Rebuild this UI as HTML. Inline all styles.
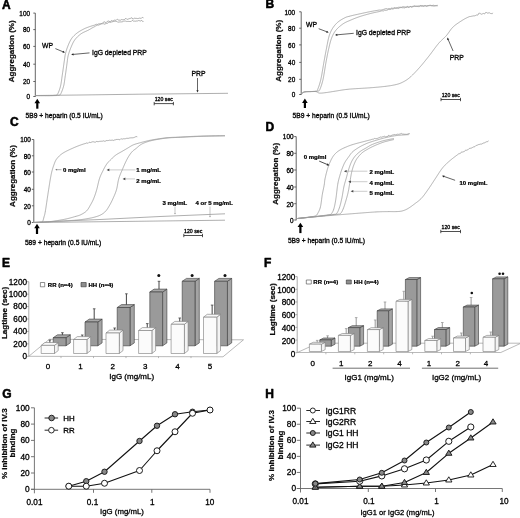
<!DOCTYPE html>
<html><head><meta charset="utf-8"><style>
html,body{margin:0;padding:0;background:#fff;}
svg{display:block;font-family:"Liberation Sans", sans-serif;}
text{stroke:#000;stroke-width:0.3px;stroke-linejoin:round;}
text[font-weight=bold]{stroke-width:0.24px;}
text.pl{stroke-width:0.55px;}
</style></head><body>
<svg style="filter:grayscale(1)" width="520" height="518" viewBox="0 0 520 518" font-family='"Liberation Sans", sans-serif'>
<rect width="520" height="518" fill="#fff"/>
<text x="2.00" y="8.60" font-size="12" font-weight="bold" text-anchor="start" fill="#000" class="pl">A</text>
<line x1="35.30" y1="13.10" x2="35.30" y2="96.80" stroke="#555" stroke-width="0.9"/>
<line x1="33.30" y1="96.50" x2="35.30" y2="96.50" stroke="#555" stroke-width="0.9"/>
<text x="30.00" y="99.30" font-size="6.4" text-anchor="end" fill="#000" >0</text>
<line x1="33.30" y1="81.50" x2="35.30" y2="81.50" stroke="#555" stroke-width="0.9"/>
<text x="30.00" y="84.30" font-size="6.4" text-anchor="end" fill="#000" >20</text>
<line x1="33.30" y1="64.20" x2="35.30" y2="64.20" stroke="#555" stroke-width="0.9"/>
<text x="30.00" y="67.00" font-size="6.4" text-anchor="end" fill="#000" >40</text>
<line x1="33.30" y1="46.40" x2="35.30" y2="46.40" stroke="#555" stroke-width="0.9"/>
<text x="30.00" y="49.20" font-size="6.4" text-anchor="end" fill="#000" >60</text>
<line x1="33.30" y1="29.60" x2="35.30" y2="29.60" stroke="#555" stroke-width="0.9"/>
<text x="30.00" y="32.40" font-size="6.4" text-anchor="end" fill="#000" >80</text>
<line x1="33.30" y1="13.10" x2="35.30" y2="13.10" stroke="#555" stroke-width="0.9"/>
<text x="30.00" y="15.90" font-size="6.4" text-anchor="end" fill="#000" >100</text>
<text x="0" y="0" font-size="8.0" font-weight="bold" text-anchor="middle" fill="#111" transform="translate(14.40,51.30) rotate(-90)">Aggregation (%)</text>
<polyline points="35.20,95.50 80.00,95.00 140.00,94.20 228.00,93.30" fill="none" stroke="#9a9a9a" stroke-width="0.8" stroke-linejoin="round" />
<polyline points="35.50,95.60 35.91,95.60 36.41,95.60 36.98,95.60 37.62,95.60 38.33,95.61 39.08,95.61 39.88,95.61 40.71,95.61 41.57,95.62 42.44,95.62 43.31,95.62 44.19,95.62 45.05,95.62 45.89,95.62 46.70,95.62 47.48,95.62 48.20,95.62 48.87,95.61 49.47,95.61 50.00,95.60 51.24,95.57 52.21,95.54 52.97,95.50 53.57,95.45 54.07,95.40 54.53,95.35 55.00,95.30 56.19,95.32 57.00,94.90 57.34,94.48 57.67,93.94 58.01,93.31 58.35,92.59 58.68,91.82 59.00,91.00 59.21,90.43 59.42,89.83 59.64,89.20 59.85,88.54 60.05,87.86 60.25,87.15 60.44,86.42 60.63,85.67 60.80,84.90 60.93,84.25 61.06,83.57 61.17,82.87 61.28,82.15 61.39,81.41 61.50,80.67 61.60,79.93 61.70,79.18 61.80,78.44 61.90,77.71 62.00,77.00 62.11,76.23 62.22,75.47 62.33,74.72 62.44,73.98 62.55,73.23 62.66,72.48 62.77,71.73 62.88,70.97 62.99,70.19 63.10,69.40 63.20,68.72 63.30,68.03 63.40,67.32 63.50,66.61 63.60,65.89 63.70,65.16 63.80,64.44 63.90,63.73 64.00,63.02 64.10,62.33 64.20,61.65 64.30,61.00 64.41,60.25 64.51,59.52 64.60,58.82 64.68,58.13 64.77,57.46 64.87,56.78 64.98,56.11 65.10,55.42 65.24,54.72 65.40,54.00 65.56,53.33 65.74,52.64 65.92,51.95 66.12,51.26 66.32,50.55 66.54,49.85 66.77,49.14 67.01,48.43 67.26,47.72 67.52,47.01 67.80,46.30 68.06,45.65 68.33,44.98 68.61,44.30 68.90,43.62 69.20,42.94 69.51,42.26 69.83,41.58 70.16,40.93 70.50,40.28 70.86,39.66 71.22,39.07 71.60,38.50 72.07,37.86 72.56,37.24 73.08,36.65 73.61,36.09 74.15,35.55 74.71,35.03 75.27,34.53 75.84,34.04 76.42,33.56 77.00,33.10 77.59,32.65 78.20,32.21 78.83,31.80 79.46,31.39 80.10,31.01 80.74,30.64 81.37,30.28 82.00,29.94 82.61,29.61 83.20,29.30 83.91,28.94 84.58,28.61 85.24,28.31 85.89,28.04 86.54,27.77 87.20,27.52 87.88,27.26 88.60,27.00 89.26,26.76 89.92,26.54 90.60,26.31 91.29,26.09 91.99,25.87 92.71,25.66 93.45,25.44 94.21,25.22 95.00,25.00 95.66,24.45 96.34,24.28 97.03,24.53 97.73,24.36 98.44,23.94 99.17,23.76 99.91,23.91 100.67,23.73 101.43,23.57 102.21,23.38 103.00,22.39 103.63,22.23 104.28,21.97 104.94,21.79 105.60,22.75 106.28,22.56 106.97,21.55 107.66,21.35 108.35,21.12 109.05,20.93 109.74,21.81 110.44,21.64 111.13,20.74 111.82,20.59 112.50,20.97 113.23,20.84 113.96,20.23 114.68,20.13 115.41,20.28 116.13,20.20 116.86,19.45 117.58,19.39 118.31,20.01 119.04,19.95 119.77,20.22 120.51,20.15 121.25,19.61 122.00,19.53 122.70,19.77 123.39,19.69 124.08,19.53 124.78,19.45 125.47,18.53 126.17,18.46 126.88,19.36 127.58,19.29 128.30,18.98 129.02,18.91 129.75,18.44 130.49,18.36 131.24,17.91 132.00,17.84 132.70,18.95 133.44,18.88 134.23,18.26 135.04,18.19 135.87,18.46 136.71,18.39 137.55,18.54 138.38,18.47 139.18,18.17 139.96,18.10 140.71,18.33 141.40,18.27 142.03,17.48 142.60,17.43 143.09,17.96 143.50,17.92" fill="none" stroke="#9a9a9a" stroke-width="0.8" stroke-linejoin="round" />
<polyline points="35.50,95.60 35.89,95.60 36.36,95.60 36.88,95.60 37.47,95.60 38.11,95.60 38.80,95.61 39.53,95.61 40.30,95.61 41.10,95.61 41.93,95.61 42.77,95.62 43.63,95.62 44.50,95.62 45.37,95.62 46.24,95.62 47.10,95.62 47.94,95.62 48.77,95.62 49.57,95.62 50.34,95.62 51.08,95.62 51.77,95.62 52.41,95.61 53.00,95.61 53.53,95.61 54.00,95.60 55.76,95.56 56.74,95.51 57.24,95.44 57.56,95.37 58.00,95.30 59.12,95.32 60.00,94.90 60.33,94.48 60.67,93.94 61.01,93.31 61.34,92.59 61.67,91.82 62.00,91.00 62.22,90.43 62.44,89.83 62.67,89.20 62.89,88.54 63.11,87.86 63.32,87.15 63.53,86.42 63.72,85.67 63.90,84.90 64.04,84.25 64.16,83.57 64.28,82.87 64.39,82.15 64.50,81.41 64.60,80.67 64.70,79.93 64.80,79.18 64.90,78.44 65.00,77.71 65.10,77.00 65.21,76.23 65.33,75.46 65.44,74.69 65.55,73.93 65.66,73.17 65.77,72.41 65.88,71.66 65.99,70.90 66.09,70.15 66.20,69.40 66.30,68.65 66.41,67.89 66.51,67.14 66.61,66.38 66.71,65.63 66.80,64.89 66.90,64.15 67.00,63.42 67.10,62.70 67.20,62.00 67.30,61.24 67.39,60.52 67.47,59.81 67.56,59.12 67.65,58.42 67.75,57.72 67.87,57.01 68.02,56.27 68.20,55.50 68.37,54.85 68.56,54.17 68.76,53.49 68.97,52.79 69.20,52.09 69.44,51.37 69.69,50.66 69.95,49.94 70.23,49.22 70.51,48.51 70.80,47.80 71.07,47.15 71.35,46.49 71.63,45.82 71.92,45.14 72.22,44.47 72.53,43.80 72.85,43.13 73.18,42.48 73.53,41.83 73.90,41.20 74.29,40.59 74.70,40.00 75.13,39.43 75.58,38.86 76.05,38.30 76.54,37.76 77.04,37.23 77.56,36.71 78.09,36.20 78.64,35.71 79.19,35.23 79.75,34.77 80.32,34.33 80.90,33.90 81.49,33.50 82.11,33.12 82.75,32.76 83.40,32.42 84.07,32.10 84.74,31.79 85.41,31.49 86.07,31.19 86.73,30.90 87.37,30.60 88.00,30.30 88.60,30.00 89.29,29.63 89.94,29.26 90.57,28.89 91.18,28.52 91.78,28.16 92.39,27.81 93.00,27.46 93.64,27.13 94.30,26.81 95.00,26.50 95.66,25.92 96.34,25.66 97.03,25.26 97.73,25.02 98.44,25.14 99.17,24.92 99.91,24.42 100.67,24.20 101.43,23.89 102.21,23.68 103.00,23.88 103.68,23.71 104.38,24.15 105.09,23.98 105.81,23.66 106.54,23.49 107.28,23.28 108.03,23.11 108.78,22.30 109.53,22.15 110.28,22.39 111.02,22.26 111.77,21.84 112.50,21.73 113.23,21.52 113.96,21.45 114.68,21.31 115.41,21.26 116.13,21.36 116.86,21.33 117.58,22.16 118.31,22.14 119.04,22.00 119.77,21.98 120.51,21.93 121.25,21.90 122.00,21.86 122.70,21.82 123.39,21.06 124.08,21.02 124.78,21.11 125.47,21.07 126.17,21.41 126.88,21.37 127.58,21.46 128.30,21.42 129.02,21.53 129.75,21.50 130.49,21.50 131.24,21.48 132.00,20.50 132.70,20.49 133.44,21.10 134.23,21.10 135.04,21.17 135.87,21.17 136.71,20.97 137.55,20.97 138.38,20.58 139.18,20.59 139.96,20.95 140.71,20.95 141.40,20.50 142.03,20.50 142.60,21.52 143.09,21.52 143.50,21.44" fill="none" stroke="#9a9a9a" stroke-width="0.8" stroke-linejoin="round" />
<text x="42.00" y="47.50" font-size="6.8" text-anchor="start" fill="#000" >WP</text>
<line x1="55.40" y1="48.60" x2="63.58" y2="52.01" stroke="#222" stroke-width="0.7"/>
<polygon points="65.00,52.60 62.44,52.74 63.30,50.69" fill="#222"/>
<text x="92.00" y="55.00" font-size="6.8" text-anchor="start" fill="#000" >IgG depleted PRP</text>
<line x1="89.50" y1="52.90" x2="72.73" y2="54.46" stroke="#222" stroke-width="0.7"/>
<polygon points="71.20,54.60 73.39,53.28 73.60,55.50" fill="#222"/>
<text x="198.50" y="75.50" font-size="6.8" text-anchor="middle" fill="#000" >PRP</text>
<line x1="197.50" y1="78.00" x2="197.50" y2="90.96" stroke="#222" stroke-width="0.7"/>
<polygon points="197.50,92.50 196.39,90.19 198.61,90.19" fill="#222"/>
<text x="163.80" y="101.30" font-size="5.2" text-anchor="middle" fill="#000" >120 sec</text>
<line x1="154.20" y1="103.60" x2="173.40" y2="103.60" stroke="#222" stroke-width="0.8"/>
<line x1="154.20" y1="101.90" x2="154.20" y2="105.30" stroke="#222" stroke-width="0.8"/>
<line x1="173.40" y1="101.90" x2="173.40" y2="105.30" stroke="#222" stroke-width="0.8"/>
<rect x="36.20" y="101.80" width="2.2" height="6.90" fill="#000"/>
<polygon points="37.30,98.80 34.50,103.20 40.10,103.20" fill="#000"/>
<text x="25.60" y="117.80" font-size="6.7" text-anchor="start" fill="#000" >5B9 + heparin (0.5 IU/mL)</text>
<text x="265.50" y="8.20" font-size="12" font-weight="bold" text-anchor="start" fill="#000" class="pl">B</text>
<line x1="301.20" y1="11.80" x2="301.20" y2="94.80" stroke="#555" stroke-width="0.9"/>
<line x1="299.20" y1="94.50" x2="301.20" y2="94.50" stroke="#555" stroke-width="0.9"/>
<text x="295.20" y="97.30" font-size="6.4" text-anchor="end" fill="#000" >0</text>
<line x1="299.20" y1="79.30" x2="301.20" y2="79.30" stroke="#555" stroke-width="0.9"/>
<text x="295.20" y="82.10" font-size="6.4" text-anchor="end" fill="#000" >20</text>
<line x1="299.20" y1="62.40" x2="301.20" y2="62.40" stroke="#555" stroke-width="0.9"/>
<text x="295.20" y="65.20" font-size="6.4" text-anchor="end" fill="#000" >40</text>
<line x1="299.20" y1="44.90" x2="301.20" y2="44.90" stroke="#555" stroke-width="0.9"/>
<text x="295.20" y="47.70" font-size="6.4" text-anchor="end" fill="#000" >60</text>
<line x1="299.20" y1="28.20" x2="301.20" y2="28.20" stroke="#555" stroke-width="0.9"/>
<text x="295.20" y="31.00" font-size="6.4" text-anchor="end" fill="#000" >80</text>
<line x1="299.20" y1="11.80" x2="301.20" y2="11.80" stroke="#555" stroke-width="0.9"/>
<text x="295.20" y="14.60" font-size="6.4" text-anchor="end" fill="#000" >100</text>
<text x="0" y="0" font-size="8.0" font-weight="bold" text-anchor="middle" fill="#111" transform="translate(280.80,50.80) rotate(-90)">Aggregation (%)</text>
<polyline points="301.50,93.80 301.88,93.52 302.41,93.10 303.05,92.64 303.78,92.21 304.60,91.90 305.25,91.77 305.96,91.69 306.72,91.64 307.52,91.62 308.35,91.62 309.18,91.61 310.00,91.60 310.74,91.58 311.52,91.54 312.32,91.51 313.12,91.49 313.91,91.48 314.66,91.49 315.37,91.53 316.00,91.60 316.81,91.84 317.44,92.19 318.00,92.57 318.65,92.90 319.50,93.10 320.08,93.14 320.69,93.14 321.35,93.11 322.05,93.06 322.78,92.99 323.54,92.91 324.33,92.81 325.15,92.71 326.00,92.60 326.60,92.52 327.20,92.44 327.81,92.35 328.43,92.26 329.06,92.15 329.71,92.05 330.38,91.94 331.08,91.82 331.79,91.70 332.54,91.58 333.33,91.46 334.14,91.33 335.00,91.20 335.60,91.11 336.21,91.01 336.83,90.91 337.46,90.81 338.10,90.70 338.75,90.59 339.41,90.48 340.09,90.37 340.78,90.26 341.49,90.14 342.22,90.03 342.97,89.92 343.73,89.81 344.52,89.70 345.33,89.59 346.16,89.49 347.01,89.39 347.89,89.29 348.80,89.20 349.39,89.14 350.01,89.09 350.65,89.04 351.30,88.98 351.98,88.93 352.67,88.88 353.37,88.83 354.08,88.78 354.81,88.74 355.55,88.69 356.29,88.64 357.04,88.60 357.80,88.55 358.56,88.51 359.33,88.46 360.09,88.42 360.85,88.37 361.61,88.33 362.37,88.29 363.12,88.24 363.86,88.20 364.60,88.16 365.32,88.11 366.04,88.07 366.74,88.03 367.43,87.98 368.10,87.94 368.75,87.89 369.39,87.85 370.00,87.80 370.85,87.73 371.69,87.67 372.51,87.60 373.32,87.54 374.11,87.47 374.88,87.41 375.64,87.34 376.39,87.28 377.12,87.21 377.84,87.15 378.55,87.08 379.25,87.01 379.93,86.95 380.60,86.88 381.26,86.81 381.91,86.75 382.55,86.68 383.17,86.61 383.79,86.54 384.40,86.47 385.00,86.40 385.88,86.29 386.72,86.19 387.53,86.08 388.31,85.98 389.06,85.87 389.79,85.77 390.50,85.66 391.19,85.55 391.85,85.43 392.51,85.31 393.15,85.19 393.77,85.07 394.39,84.94 395.00,84.80 395.82,84.61 396.58,84.43 397.30,84.24 397.98,84.06 398.64,83.86 399.29,83.64 399.94,83.40 400.60,83.14 401.29,82.84 402.00,82.50 402.56,82.22 403.13,81.94 403.69,81.65 404.26,81.34 404.82,81.03 405.40,80.69 405.98,80.34 406.57,79.96 407.17,79.55 407.78,79.12 408.40,78.65 409.04,78.14 409.70,77.60 410.16,77.20 410.63,76.78 411.11,76.35 411.59,75.89 412.09,75.42 412.59,74.94 413.09,74.44 413.60,73.92 414.12,73.40 414.63,72.86 415.15,72.32 415.67,71.77 416.20,71.21 416.72,70.65 417.24,70.08 417.76,69.51 418.28,68.94 418.79,68.37 419.30,67.80 419.76,67.28 420.22,66.76 420.68,66.23 421.14,65.69 421.60,65.15 422.07,64.60 422.53,64.04 422.99,63.49 423.46,62.92 423.92,62.36 424.38,61.79 424.84,61.22 425.31,60.64 425.77,60.07 426.23,59.49 426.70,58.91 427.16,58.33 427.62,57.75 428.08,57.16 428.54,56.58 429.00,56.00 429.44,55.44 429.88,54.87 430.33,54.28 430.78,53.69 431.23,53.09 431.68,52.49 432.13,51.88 432.58,51.27 433.03,50.66 433.48,50.05 433.92,49.44 434.37,48.84 434.81,48.24 435.25,47.65 435.69,47.07 436.12,46.50 436.55,45.95 436.97,45.40 437.39,44.88 437.80,44.36 438.20,43.87 438.60,43.40 439.17,42.74 439.74,42.13 440.29,41.55 440.84,41.00 441.38,40.47 441.91,39.97 442.43,39.48 442.94,39.01 443.45,38.54 443.94,38.09 444.43,37.63 444.91,37.16 445.38,36.69 445.85,36.20 446.30,35.70 446.81,35.10 447.30,34.49 447.77,33.86 448.22,33.24 448.67,32.61 449.10,31.98 449.53,31.36 449.96,30.75 450.38,30.16 450.80,29.58 451.23,29.02 451.66,28.50 452.10,28.00 452.66,27.41 453.20,26.87 453.72,26.38 454.23,25.92 454.76,25.48 455.30,25.05 455.87,24.62 456.49,24.18 457.16,23.71 457.90,23.20 458.40,22.86 458.93,22.50 459.48,22.13 460.05,21.75 460.65,21.36 461.26,20.97 461.88,20.58 462.51,20.18 463.15,19.79 463.80,19.41 464.45,19.03 465.09,18.67 465.73,18.32 466.37,17.99 466.99,17.68 467.60,17.40 468.29,17.10 468.99,16.82 469.70,16.56 470.41,16.51 471.11,16.29 471.82,16.26 472.52,16.06 473.22,15.96 473.92,15.78 474.60,15.84 475.27,15.68 475.93,15.19 476.57,15.04 477.20,15.18 477.97,14.98 478.71,13.37 479.43,13.21 480.14,13.75 480.82,13.60 481.50,14.23 482.17,14.12 482.84,13.54 483.52,13.46 484.20,13.79 484.90,13.74 485.63,12.46 486.42,12.46 487.23,13.06 488.06,13.11 488.88,12.82 489.68,12.89 490.43,13.45 491.13,13.52 491.76,13.63 492.28,13.68 492.70,12.82" fill="none" stroke="#9a9a9a" stroke-width="0.8" stroke-linejoin="round" />
<polyline points="301.50,93.80 301.85,93.52 302.31,93.10 302.90,92.64 303.66,92.21 304.60,91.90 305.18,91.80 305.87,91.72 306.63,91.67 307.44,91.63 308.28,91.60 309.11,91.58 309.93,91.57 310.70,91.55 311.40,91.53 312.00,91.50 312.98,91.44 313.76,91.40 314.41,91.36 314.97,91.30 315.50,91.20 316.40,91.40 317.30,90.30 317.47,89.91 317.66,89.48 317.86,89.00 318.06,88.47 318.28,87.90 318.51,87.30 318.74,86.66 318.97,85.98 319.20,85.27 319.44,84.53 319.68,83.77 319.91,82.98 320.14,82.16 320.37,81.33 320.59,80.47 320.80,79.60 320.93,79.02 321.06,78.42 321.19,77.80 321.32,77.16 321.45,76.49 321.58,75.81 321.71,75.12 321.84,74.41 321.97,73.68 322.09,72.95 322.22,72.22 322.34,71.47 322.47,70.73 322.59,69.98 322.72,69.23 322.84,68.48 322.96,67.74 323.08,67.01 323.20,66.28 323.32,65.56 323.44,64.86 323.55,64.17 323.67,63.49 323.79,62.84 323.90,62.20 324.04,61.42 324.18,60.66 324.32,59.91 324.45,59.17 324.59,58.44 324.72,57.72 324.85,57.01 324.98,56.31 325.10,55.61 325.23,54.92 325.36,54.24 325.48,53.57 325.61,52.90 325.74,52.23 325.86,51.57 325.99,50.92 326.11,50.26 326.24,49.61 326.37,48.95 326.50,48.30 326.65,47.53 326.80,46.76 326.95,45.99 327.09,45.22 327.24,44.45 327.38,43.69 327.53,42.94 327.67,42.19 327.82,41.45 327.97,40.73 328.12,40.01 328.27,39.31 328.43,38.63 328.59,37.97 328.75,37.32 328.92,36.70 329.10,36.10 329.35,35.29 329.61,34.53 329.87,33.80 330.14,33.11 330.41,32.45 330.69,31.82 330.98,31.21 331.27,30.61 331.58,30.03 331.91,29.45 332.25,28.88 332.60,28.30 333.00,27.68 333.42,27.06 333.85,26.47 334.29,25.89 334.75,25.32 335.22,24.76 335.71,24.22 336.21,23.70 336.72,23.18 337.25,22.68 337.80,22.20 338.38,21.73 338.99,21.26 339.63,20.80 340.29,20.36 340.96,19.93 341.64,19.52 342.31,19.13 342.97,18.76 343.61,18.41 344.22,18.09 344.80,17.80 345.60,17.42 346.28,17.13 346.90,16.91 347.53,16.73 348.22,16.55 349.02,16.35 350.00,16.10 350.56,15.95 351.15,15.81 351.78,15.65 352.43,15.50 353.11,15.34 353.82,15.17 354.54,15.01 355.29,14.84 356.05,14.67 356.82,14.50 357.61,14.32 358.40,14.15 359.20,13.97 360.00,13.80 360.63,13.66 361.28,13.52 361.94,13.38 362.61,13.23 363.29,13.08 363.98,12.93 364.68,12.78 365.38,12.63 366.09,12.48 366.81,12.33 367.52,12.18 368.24,12.03 368.96,11.89 369.67,11.74 370.39,11.60 371.10,11.46 371.80,11.33 372.50,11.20 373.19,11.07 373.89,10.95 374.58,10.83 375.28,10.71 375.97,10.59 376.67,10.48 377.36,10.36 378.06,10.25 378.75,10.14 379.44,10.04 380.14,10.16 380.83,10.06 381.53,9.97 382.22,9.87 382.92,9.50 383.61,9.39 384.31,9.11 385.00,9.01 385.69,8.70 386.39,8.59 387.08,9.02 387.78,8.92 388.47,8.66 389.17,8.56 389.86,8.69 390.56,8.59 391.25,8.19 391.94,8.09 392.64,8.31 393.33,8.22 394.03,7.73 394.72,7.64 395.42,7.98 396.11,7.90 396.81,7.76 397.50,7.68 398.24,7.35 398.97,7.28 399.71,7.31 400.44,7.24 401.18,7.29 401.91,7.23 402.65,6.78 403.38,6.72 404.12,6.95 404.85,6.90 405.59,7.05 406.32,6.99 407.06,6.51 407.79,6.46 408.53,6.84 409.26,6.79 410.00,6.65 410.73,6.60 411.45,6.68 412.17,6.63 412.88,6.18 413.59,6.13 414.30,5.90 415.01,5.85 415.72,6.38 416.44,6.34 417.16,6.30 417.89,6.26 418.63,5.94 419.37,5.90 420.13,5.58 420.91,5.55 421.69,5.59 422.50,5.56 423.18,5.88 423.90,5.85 424.66,5.55 425.45,5.52 426.26,6.02 427.09,5.99 427.93,5.67 428.78,5.64 429.62,5.31 430.46,5.28 431.29,5.62 432.11,5.59 432.90,5.33 433.66,5.31 434.39,5.75 435.07,5.73 435.71,5.69 436.30,5.67 436.83,5.34 437.30,5.32 437.70,5.42" fill="none" stroke="#9a9a9a" stroke-width="0.8" stroke-linejoin="round" />
<polyline points="301.50,93.80 301.82,93.52 302.21,93.10 302.76,92.64 303.53,92.21 304.60,91.90 305.13,91.82 305.76,91.76 306.45,91.71 307.21,91.67 308.01,91.64 308.84,91.62 309.67,91.60 310.51,91.59 311.31,91.57 312.08,91.56 312.80,91.55 313.44,91.53 314.00,91.50 315.15,91.44 316.01,91.39 316.68,91.34 317.24,91.25 317.80,91.10 318.56,91.00 319.11,90.77 319.80,89.60 319.99,89.16 320.20,88.68 320.41,88.15 320.63,87.58 320.86,86.96 321.10,86.30 321.34,85.59 321.58,84.85 321.82,84.07 322.07,83.24 322.31,82.39 322.54,81.49 322.77,80.56 323.00,79.60 323.12,79.04 323.25,78.45 323.37,77.83 323.49,77.20 323.62,76.54 323.74,75.86 323.86,75.17 323.98,74.46 324.10,73.74 324.22,73.00 324.34,72.26 324.46,71.52 324.58,70.77 324.70,70.02 324.82,69.26 324.94,68.51 325.06,67.77 325.18,67.03 325.30,66.30 325.42,65.57 325.53,64.87 325.65,64.17 325.77,63.50 325.88,62.84 326.00,62.20 326.14,61.42 326.29,60.65 326.43,59.89 326.57,59.14 326.71,58.40 326.85,57.67 326.99,56.94 327.13,56.22 327.27,55.52 327.41,54.82 327.54,54.13 327.68,53.45 327.82,52.77 327.96,52.11 328.10,51.45 328.24,50.81 328.38,50.17 328.52,49.54 328.66,48.91 328.80,48.30 328.99,47.50 329.17,46.71 329.35,45.94 329.53,45.19 329.70,44.45 329.88,43.73 330.06,43.02 330.24,42.32 330.43,41.64 330.62,40.97 330.82,40.32 331.02,39.67 331.24,39.04 331.46,38.41 331.70,37.80 332.01,37.05 332.32,36.32 332.64,35.62 332.96,34.94 333.30,34.27 333.65,33.62 334.01,32.99 334.39,32.37 334.79,31.77 335.20,31.17 335.64,30.58 336.10,30.00 336.55,29.47 337.02,28.94 337.52,28.42 338.04,27.91 338.57,27.41 339.11,26.92 339.67,26.44 340.23,25.98 340.79,25.53 341.35,25.10 341.91,24.68 342.46,24.28 343.00,23.90 343.62,23.49 344.23,23.11 344.82,22.77 345.41,22.45 346.01,22.16 346.61,21.87 347.23,21.59 347.87,21.31 348.54,21.03 349.25,20.72 350.00,20.40 350.57,20.15 351.16,19.90 351.77,19.64 352.39,19.38 353.02,19.11 353.66,18.85 354.32,18.58 354.99,18.32 355.68,18.05 356.37,17.79 357.08,17.52 357.79,17.26 358.52,17.00 359.25,16.75 360.00,16.50 360.63,16.29 361.28,16.09 361.94,15.88 362.61,15.68 363.29,15.47 363.98,15.27 364.68,15.06 365.38,14.86 366.09,14.66 366.81,14.47 367.52,14.27 368.24,14.08 368.96,13.89 369.67,13.70 370.39,13.52 371.10,13.34 371.80,13.17 372.50,13.00 373.19,12.84 373.89,12.68 374.58,12.52 375.28,12.37 375.97,12.22 376.67,12.08 377.36,11.94 378.06,11.80 378.75,11.67 379.44,11.54 380.14,11.26 380.83,11.13 381.53,10.87 382.22,10.74 382.92,11.01 383.61,10.88 384.31,10.29 385.00,10.16 385.69,10.40 386.39,10.27 387.08,10.00 387.78,9.87 388.47,9.49 389.17,9.36 389.86,9.59 390.56,9.46 391.25,8.95 391.94,8.83 392.64,9.02 393.33,8.90 394.03,8.49 394.72,8.38 395.42,8.28 396.11,8.18 396.81,8.34 397.50,8.24 398.24,8.46 398.97,8.36 399.71,7.71 400.44,7.62 401.18,7.62 401.91,7.53 402.65,7.78 403.38,7.70 404.12,7.88 404.85,7.81 405.59,7.45 406.32,7.38 407.06,7.17 407.79,7.11 408.53,7.51 409.26,7.44 410.00,6.64 410.73,6.58 411.45,7.17 412.17,7.11 412.88,6.60 413.59,6.55 414.30,6.38 415.01,6.33 415.72,6.26 416.44,6.22 417.16,6.32 417.89,6.28 418.63,6.64 419.37,6.60 420.13,6.06 420.91,6.02 421.69,6.30 422.50,6.27 423.18,6.28 423.90,6.26 424.66,6.02 425.45,5.99 426.26,6.11 427.09,6.08 427.93,5.67 428.78,5.65 429.62,5.63 430.46,5.61 431.29,5.71 432.11,5.69 432.90,6.05 433.66,6.03 434.39,5.82 435.07,5.80 435.71,5.70 436.30,5.68 436.83,5.89 437.30,5.88 437.70,5.76" fill="none" stroke="#9a9a9a" stroke-width="0.8" stroke-linejoin="round" />
<text x="306.00" y="26.50" font-size="6.8" text-anchor="start" fill="#000" >WP</text>
<line x1="318.70" y1="28.70" x2="327.26" y2="31.95" stroke="#222" stroke-width="0.7"/>
<polygon points="328.70,32.50 326.15,32.72 326.94,30.64" fill="#222"/>
<text x="356.00" y="35.00" font-size="6.8" text-anchor="start" fill="#000" >IgG depleted PRP</text>
<line x1="353.70" y1="33.30" x2="336.53" y2="34.86" stroke="#222" stroke-width="0.7"/>
<polygon points="335.00,35.00 337.19,33.68 337.40,35.90" fill="#222"/>
<text x="456.80" y="59.50" font-size="6.8" text-anchor="middle" fill="#000" >PRP</text>
<line x1="453.10" y1="51.00" x2="447.91" y2="39.01" stroke="#222" stroke-width="0.7"/>
<polygon points="447.30,37.60 449.24,39.27 447.19,40.16" fill="#222"/>
<text x="450.75" y="97.20" font-size="5.2" text-anchor="middle" fill="#000" >120 sec</text>
<line x1="441.00" y1="99.50" x2="460.50" y2="99.50" stroke="#222" stroke-width="0.8"/>
<line x1="441.00" y1="97.80" x2="441.00" y2="101.20" stroke="#222" stroke-width="0.8"/>
<line x1="460.50" y1="97.80" x2="460.50" y2="101.20" stroke="#222" stroke-width="0.8"/>
<rect x="303.80" y="101.50" width="2.2" height="6.50" fill="#000"/>
<polygon points="304.90,98.50 302.10,102.90 307.70,102.90" fill="#000"/>
<text x="292.50" y="117.50" font-size="6.7" text-anchor="start" fill="#000" >5B9 + heparin (0.5 IU/mL)</text>
<text x="10.00" y="126.30" font-size="12" font-weight="bold" text-anchor="start" fill="#000" class="pl">C</text>
<line x1="33.80" y1="139.50" x2="33.80" y2="222.80" stroke="#555" stroke-width="0.9"/>
<line x1="31.80" y1="222.50" x2="33.80" y2="222.50" stroke="#555" stroke-width="0.9"/>
<text x="30.90" y="225.30" font-size="6.4" text-anchor="end" fill="#000" >0</text>
<line x1="31.80" y1="205.80" x2="33.80" y2="205.80" stroke="#555" stroke-width="0.9"/>
<text x="30.90" y="208.60" font-size="6.4" text-anchor="end" fill="#000" >20</text>
<line x1="31.80" y1="189.30" x2="33.80" y2="189.30" stroke="#555" stroke-width="0.9"/>
<text x="30.90" y="192.10" font-size="6.4" text-anchor="end" fill="#000" >40</text>
<line x1="31.80" y1="172.00" x2="33.80" y2="172.00" stroke="#555" stroke-width="0.9"/>
<text x="30.90" y="174.80" font-size="6.4" text-anchor="end" fill="#000" >60</text>
<line x1="31.80" y1="155.80" x2="33.80" y2="155.80" stroke="#555" stroke-width="0.9"/>
<text x="30.90" y="158.60" font-size="6.4" text-anchor="end" fill="#000" >80</text>
<line x1="31.80" y1="139.50" x2="33.80" y2="139.50" stroke="#555" stroke-width="0.9"/>
<text x="30.90" y="142.30" font-size="6.4" text-anchor="end" fill="#000" >100</text>
<text x="0" y="0" font-size="8.0" font-weight="bold" text-anchor="middle" fill="#111" transform="translate(15.30,176.00) rotate(-90)">Aggregation (%)</text>
<polyline points="33.50,222.30 100.00,219.50 160.00,216.50 225.00,213.80" fill="none" stroke="#9a9a9a" stroke-width="0.8" stroke-linejoin="round" />
<polyline points="33.50,222.50 120.00,221.50 225.00,220.20" fill="none" stroke="#9a9a9a" stroke-width="0.8" stroke-linejoin="round" />
<polyline points="33.50,222.50 33.96,222.50 34.58,222.50 35.33,222.50 36.16,222.50 37.03,222.50 37.89,222.49 38.70,222.47 39.42,222.44 40.00,222.40 41.17,222.33 41.89,222.17 42.50,221.60 42.81,221.07 43.08,220.40 43.32,219.62 43.54,218.78 43.77,217.89 44.00,217.00 44.17,216.41 44.32,215.91 44.47,215.43 44.61,214.91 44.77,214.28 44.95,213.46 45.15,212.39 45.40,211.00 45.48,210.51 45.57,209.99 45.66,209.44 45.75,208.85 45.84,208.23 45.94,207.59 46.05,206.92 46.15,206.22 46.26,205.51 46.36,204.78 46.47,204.03 46.59,203.27 46.70,202.50 46.81,201.72 46.93,200.93 47.04,200.14 47.16,199.35 47.28,198.56 47.39,197.76 47.51,196.98 47.63,196.20 47.74,195.43 47.86,194.67 47.97,193.93 48.08,193.20 48.19,192.49 48.30,191.80 48.42,191.07 48.53,190.33 48.65,189.58 48.76,188.84 48.88,188.09 49.00,187.34 49.11,186.59 49.23,185.84 49.34,185.10 49.46,184.36 49.58,183.62 49.69,182.89 49.81,182.17 49.92,181.45 50.04,180.75 50.16,180.05 50.27,179.37 50.39,178.69 50.50,178.03 50.62,177.38 50.74,176.75 50.85,176.14 50.97,175.54 51.08,174.96 51.20,174.40 51.39,173.51 51.59,172.65 51.78,171.84 51.97,171.07 52.17,170.33 52.36,169.63 52.55,168.95 52.75,168.30 52.94,167.68 53.13,167.08 53.33,166.49 53.52,165.93 53.71,165.38 53.91,164.83 54.10,164.30 54.41,163.46 54.69,162.71 54.96,162.03 55.23,161.40 55.51,160.81 55.82,160.24 56.16,159.67 56.55,159.10 57.00,158.50 57.40,158.00 57.83,157.50 58.27,157.01 58.73,156.52 59.22,156.03 59.74,155.55 60.28,155.08 60.86,154.60 61.47,154.13 62.12,153.66 62.80,153.20 63.33,152.86 63.90,152.52 64.49,152.18 65.11,151.84 65.75,151.50 66.40,151.16 67.07,150.82 67.75,150.49 68.44,150.16 69.13,149.84 69.82,149.52 70.50,149.20 71.18,148.90 71.85,148.59 72.50,148.30 73.19,147.99 73.89,147.68 74.60,147.38 75.31,147.08 76.01,146.79 76.72,146.50 77.42,146.22 78.12,145.94 78.82,145.68 79.50,145.42 80.17,145.18 80.83,144.94 81.47,144.71 82.10,144.50 82.87,144.25 83.60,144.01 84.31,143.80 84.99,143.60 85.67,143.41 86.33,143.05 87.00,142.89 87.67,143.25 88.36,143.10 89.07,142.38 89.80,142.24 90.49,142.52 91.18,142.42 91.88,141.89 92.58,141.80 93.29,141.83 94.01,141.75 94.74,142.21 95.49,142.14 96.24,141.52 97.01,141.45 97.80,141.68 98.60,141.60 99.25,141.41 99.90,141.35 100.54,141.30 101.19,141.25 101.85,141.23 102.52,141.18 103.19,140.92 103.88,140.87 104.59,141.26 105.31,141.20 106.06,140.62 106.83,140.56 107.62,140.58 108.45,140.50 109.30,140.26 109.91,140.20 110.53,140.30 111.18,140.23 111.85,140.25 112.54,140.17 113.24,140.44 113.95,140.35 114.67,139.90 115.40,139.81 116.14,139.53 116.88,139.44 117.62,139.45 118.37,139.36 119.11,139.78 119.84,139.68 120.57,138.94 121.30,138.85 122.01,139.14 122.70,139.05 123.39,138.79 124.05,138.70 124.70,138.81 125.49,138.70 126.29,138.37 127.11,138.25 127.93,138.38 128.75,138.25 129.57,137.99 130.39,137.87 131.18,137.86 131.96,137.74 132.72,137.80 133.44,137.68 134.14,137.35 134.79,137.25 135.40,136.84 135.96,136.76 136.47,136.62 136.92,136.55 137.30,137.11" fill="none" stroke="#9a9a9a" stroke-width="0.8" stroke-linejoin="round" />
<polyline points="33.50,222.50 33.89,222.48 34.34,222.46 34.85,222.44 35.41,222.42 36.02,222.39 36.67,222.37 37.35,222.34 38.08,222.31 38.83,222.28 39.61,222.25 40.41,222.22 41.22,222.18 42.05,222.14 42.88,222.10 43.72,222.06 44.56,222.01 45.39,221.96 46.21,221.91 47.01,221.86 47.80,221.80 48.56,221.74 49.30,221.67 50.00,221.60 50.75,221.52 51.51,221.43 52.27,221.34 53.02,221.24 53.78,221.14 54.54,221.03 55.30,220.92 56.05,220.80 56.80,220.69 57.54,220.57 58.27,220.45 59.00,220.32 59.72,220.20 60.43,220.07 61.12,219.94 61.81,219.82 62.48,219.69 63.13,219.57 63.77,219.44 64.40,219.32 65.00,219.20 65.88,219.02 66.73,218.83 67.55,218.64 68.34,218.45 69.11,218.26 69.86,218.06 70.58,217.87 71.27,217.68 71.94,217.49 72.59,217.30 73.23,217.11 73.84,216.94 74.43,216.76 75.00,216.60 75.93,216.34 76.75,216.12 77.48,215.92 78.16,215.72 78.81,215.52 79.45,215.29 80.10,215.02 80.80,214.70 81.46,214.37 82.13,214.02 82.81,213.65 83.49,213.25 84.16,212.83 84.81,212.39 85.45,211.92 86.04,211.42 86.60,210.90 87.11,210.35 87.59,209.76 88.03,209.15 88.45,208.51 88.85,207.86 89.24,207.18 89.62,206.49 90.01,205.80 90.40,205.10 90.76,204.47 91.11,203.83 91.47,203.19 91.81,202.54 92.16,201.87 92.50,201.20 92.83,200.50 93.16,199.79 93.48,199.06 93.80,198.30 94.06,197.65 94.31,197.00 94.56,196.34 94.81,195.66 95.05,194.97 95.29,194.27 95.52,193.55 95.76,192.82 95.99,192.07 96.23,191.30 96.46,190.51 96.70,189.70 96.88,189.07 97.05,188.41 97.22,187.72 97.39,187.02 97.56,186.30 97.73,185.57 97.90,184.83 98.07,184.09 98.24,183.36 98.41,182.62 98.58,181.90 98.76,181.19 98.94,180.51 99.12,179.84 99.31,179.20 99.50,178.60 99.76,177.84 100.03,177.11 100.30,176.41 100.57,175.75 100.85,175.11 101.14,174.48 101.42,173.87 101.71,173.27 102.01,172.68 102.30,172.09 102.60,171.50 102.90,170.90 103.23,170.24 103.56,169.58 103.89,168.93 104.23,168.28 104.57,167.64 104.91,167.00 105.26,166.39 105.61,165.79 105.97,165.20 106.33,164.64 106.70,164.10 107.16,163.48 107.63,162.89 108.11,162.33 108.59,161.80 109.08,161.29 109.58,160.79 110.08,160.29 110.59,159.80 111.10,159.30 111.61,158.80 112.12,158.29 112.63,157.80 113.15,157.31 113.68,156.82 114.21,156.35 114.76,155.89 115.32,155.44 115.90,155.00 116.50,154.58 117.12,154.18 117.76,153.80 118.41,153.43 119.07,153.06 119.73,152.70 120.39,152.34 121.05,151.97 121.70,151.60 122.35,151.22 122.99,150.84 123.64,150.46 124.29,150.08 124.94,149.70 125.59,149.32 126.23,148.94 126.87,148.57 127.50,148.20 128.12,147.83 128.72,147.45 129.31,147.08 129.90,146.70 130.50,146.34 131.10,145.98 131.71,145.63 132.34,145.31 133.00,145.00 133.67,144.72 134.34,144.47 135.01,144.23 135.69,144.01 136.40,143.79 137.14,143.58 137.91,143.37 138.73,143.14 139.60,142.90 140.19,142.74 140.81,142.57 141.46,142.39 142.12,142.22 142.81,142.04 143.50,141.86 144.21,141.68 144.93,141.50 145.65,141.32 146.37,141.14 147.09,140.97 147.80,140.81 148.51,140.65 149.20,140.50 149.94,140.34 150.68,140.19 151.41,140.05 152.15,139.91 152.89,139.77 153.63,139.64 154.36,139.51 155.10,139.39 155.84,139.26 156.58,139.14 157.32,139.03 158.06,138.91 158.80,138.80 159.54,138.69 160.27,138.58 160.99,138.47 161.72,138.37 162.44,138.27 163.17,138.17 163.90,138.08 164.63,137.99 165.38,137.90 166.14,137.82 166.91,137.74 167.69,137.67 168.50,137.60 169.16,137.55 169.83,137.51 170.49,137.47 171.17,137.43 171.84,137.40 172.53,137.37 173.22,137.35 173.92,137.32 174.63,137.30 175.35,137.28 176.09,137.25 176.84,137.23 177.60,137.20 178.38,137.17 179.18,137.14 180.00,137.10 180.64,137.07 181.29,137.03 181.96,137.00 182.64,136.96 183.33,136.92 184.03,136.88 184.74,136.84 185.46,136.80 186.18,136.76 186.91,136.72 187.65,136.68 188.39,136.64 189.13,136.60 189.87,136.56 190.61,136.52 191.35,136.48 192.09,136.44 192.83,136.40 193.56,136.37 194.28,136.33 195.00,136.30 195.71,136.27 196.43,136.24 197.14,136.21 197.86,136.18 198.57,136.16 199.29,136.13 200.00,136.10 200.71,136.08 201.43,136.05 202.14,136.03 202.86,136.01 203.57,135.98 204.29,135.96 205.00,135.94 205.71,135.92 206.43,135.90 207.14,135.88 207.86,135.86 208.57,135.84 209.29,135.82 210.00,135.80 210.73,135.78 211.49,135.76 212.27,135.74 213.08,135.73 213.90,135.71 214.72,135.69 215.56,135.67 216.39,135.66 217.22,135.64 218.03,135.63 218.84,135.61 219.62,135.60 220.38,135.58 221.11,135.57 221.81,135.56 222.47,135.55 223.08,135.54 223.64,135.53 224.16,135.52 224.61,135.51 225.00,135.50" fill="none" stroke="#9a9a9a" stroke-width="0.8" stroke-linejoin="round" />
<polyline points="33.50,222.50 33.88,222.48 34.31,222.46 34.78,222.44 35.29,222.41 35.83,222.39 36.42,222.36 37.03,222.33 37.68,222.30 38.36,222.27 39.06,222.23 39.79,222.20 40.54,222.16 41.31,222.13 42.10,222.09 42.91,222.05 43.72,222.01 44.55,221.97 45.39,221.93 46.24,221.89 47.08,221.85 47.94,221.81 48.79,221.77 49.63,221.73 50.48,221.69 51.32,221.65 52.14,221.60 52.96,221.56 53.76,221.52 54.55,221.48 55.32,221.45 56.07,221.41 56.79,221.37 57.49,221.33 58.16,221.30 58.81,221.26 59.42,221.23 60.00,221.20 60.97,221.15 61.90,221.09 62.79,221.04 63.65,220.99 64.48,220.94 65.28,220.90 66.05,220.85 66.79,220.80 67.51,220.76 68.21,220.71 68.89,220.66 69.55,220.62 70.19,220.57 70.82,220.53 71.44,220.48 72.04,220.44 72.64,220.39 73.24,220.35 73.83,220.30 74.41,220.25 75.00,220.20 75.92,220.12 76.79,220.04 77.60,219.97 78.38,219.90 79.12,219.82 79.84,219.74 80.53,219.67 81.22,219.59 81.90,219.50 82.58,219.41 83.27,219.31 83.97,219.21 84.70,219.10 85.45,218.98 86.21,218.86 86.98,218.73 87.75,218.59 88.53,218.45 89.30,218.31 90.06,218.16 90.82,218.01 91.56,217.86 92.28,217.70 92.98,217.53 93.65,217.37 94.30,217.20 95.10,216.98 95.87,216.76 96.61,216.54 97.32,216.31 98.00,216.07 98.66,215.82 99.30,215.56 99.91,215.29 100.51,215.01 101.10,214.70 101.80,214.30 102.46,213.89 103.09,213.46 103.69,213.01 104.26,212.53 104.82,212.02 105.36,211.48 105.90,210.90 106.37,210.35 106.82,209.76 107.26,209.15 107.68,208.51 108.09,207.86 108.50,207.18 108.90,206.49 109.30,205.80 109.70,205.10 110.06,204.47 110.41,203.83 110.75,203.19 111.09,202.54 111.43,201.87 111.76,201.20 112.09,200.50 112.43,199.79 112.76,199.06 113.10,198.30 113.36,197.70 113.63,197.10 113.91,196.49 114.18,195.87 114.46,195.24 114.73,194.59 115.00,193.94 115.27,193.27 115.53,192.59 115.79,191.89 116.04,191.18 116.27,190.45 116.50,189.70 116.67,189.07 116.83,188.42 116.98,187.75 117.12,187.07 117.25,186.37 117.38,185.65 117.50,184.94 117.62,184.21 117.75,183.49 117.88,182.76 118.01,182.04 118.15,181.33 118.29,180.62 118.45,179.93 118.62,179.26 118.80,178.60 119.03,177.87 119.26,177.14 119.51,176.43 119.77,175.72 120.04,175.02 120.32,174.33 120.60,173.65 120.89,172.97 121.17,172.30 121.46,171.63 121.75,170.97 122.04,170.31 122.32,169.65 122.60,169.00 122.90,168.29 123.20,167.58 123.50,166.87 123.81,166.16 124.12,165.46 124.42,164.76 124.73,164.07 125.03,163.39 125.33,162.73 125.63,162.09 125.93,161.47 126.22,160.87 126.50,160.30 126.90,159.52 127.30,158.77 127.69,158.07 128.07,157.40 128.45,156.76 128.82,156.16 129.19,155.58 129.55,155.03 129.90,154.50 130.41,153.77 130.90,153.12 131.38,152.53 131.84,151.99 132.32,151.49 132.80,151.00 133.35,150.50 133.86,150.10 134.40,149.72 135.03,149.28 135.80,148.70 136.25,148.33 136.74,147.92 137.25,147.46 137.79,146.99 138.36,146.49 138.95,146.00 139.56,145.51 140.19,145.04 140.84,144.60 141.50,144.20 142.12,143.87 142.75,143.55 143.40,143.25 144.07,142.96 144.76,142.68 145.46,142.41 146.18,142.15 146.91,141.91 147.66,141.66 148.42,141.43 149.20,141.20 149.83,141.02 150.47,140.86 151.13,140.69 151.80,140.54 152.48,140.38 153.18,140.24 153.87,140.09 154.58,139.96 155.29,139.82 155.99,139.69 156.70,139.56 157.41,139.44 158.11,139.32 158.80,139.20 159.54,139.08 160.27,138.95 160.99,138.84 161.72,138.73 162.44,138.62 163.17,138.51 163.90,138.41 164.63,138.32 165.38,138.23 166.14,138.14 166.91,138.05 167.69,137.98 168.50,137.90 169.16,137.84 169.83,137.79 170.49,137.75 171.17,137.70 171.84,137.66 172.53,137.63 173.22,137.59 173.92,137.56 174.63,137.53 175.35,137.50 176.09,137.47 176.84,137.44 177.60,137.41 178.38,137.38 179.18,137.34 180.00,137.30 180.64,137.27 181.29,137.24 181.96,137.20 182.64,137.17 183.33,137.13 184.03,137.10 184.74,137.06 185.46,137.03 186.18,136.99 186.91,136.96 187.65,136.92 188.39,136.88 189.13,136.85 189.87,136.81 190.61,136.78 191.35,136.75 192.09,136.72 192.83,136.69 193.56,136.66 194.28,136.63 195.00,136.60 195.71,136.57 196.43,136.55 197.14,136.53 197.86,136.50 198.57,136.48 199.29,136.46 200.00,136.44 200.71,136.42 201.43,136.40 202.14,136.38 202.86,136.36 203.57,136.34 204.29,136.32 205.00,136.31 205.71,136.29 206.43,136.27 207.14,136.26 207.86,136.24 208.57,136.23 209.29,136.21 210.00,136.20 210.73,136.19 211.49,136.17 212.27,136.16 213.08,136.15 213.90,136.13 214.72,136.12 215.56,136.11 216.39,136.10 217.22,136.09 218.03,136.08 218.84,136.07 219.62,136.06 220.38,136.05 221.11,136.04 221.81,136.04 222.47,136.03 223.08,136.02 223.64,136.02 224.16,136.01 224.61,136.00 225.00,136.00" fill="none" stroke="#9a9a9a" stroke-width="0.8" stroke-linejoin="round" />
<text x="62.90" y="172.20" font-size="6.0" font-weight="bold" text-anchor="start" fill="#000" >0 mg/ml</text>
<line x1="61.50" y1="169.70" x2="56.45" y2="169.70" stroke="#777" stroke-width="0.6"/>
<polygon points="55.20,169.70 57.07,168.80 57.07,170.60" fill="#777"/>
<text x="136.30" y="171.70" font-size="6.0" font-weight="bold" text-anchor="start" fill="#000" >1 mg/mL</text>
<line x1="135.40" y1="169.90" x2="108.42" y2="169.90" stroke="#aaa" stroke-width="0.6"/>
<polygon points="106.60,169.90 109.34,168.58 109.34,171.22" fill="#444"/>
<text x="136.30" y="182.90" font-size="6.0" font-weight="bold" text-anchor="start" fill="#000" >2 mg/mL</text>
<line x1="135.00" y1="178.90" x2="124.42" y2="178.90" stroke="#aaa" stroke-width="0.6"/>
<polygon points="122.60,178.90 125.34,177.58 125.34,180.22" fill="#444"/>
<text x="162.50" y="204.70" font-size="6.0" font-weight="bold" text-anchor="start" fill="#000" >3 mg/mL</text>
<text x="195.50" y="205.40" font-size="6.0" font-weight="bold" text-anchor="start" fill="#000" >4 or 5 mg/mL</text>
<line x1="175.00" y1="206.50" x2="175.00" y2="213.54" stroke="#888" stroke-width="0.5"/>
<polygon points="175.00,214.50 174.30,213.06 175.70,213.06" fill="#888"/>
<line x1="210.00" y1="206.50" x2="210.00" y2="216.54" stroke="#888" stroke-width="0.5"/>
<polygon points="210.00,217.50 209.30,216.06 210.70,216.06" fill="#888"/>
<text x="193.15" y="233.20" font-size="5.2" text-anchor="middle" fill="#000" >120 sec</text>
<line x1="183.80" y1="235.50" x2="202.50" y2="235.50" stroke="#222" stroke-width="0.8"/>
<line x1="183.80" y1="233.80" x2="183.80" y2="237.20" stroke="#222" stroke-width="0.8"/>
<line x1="202.50" y1="233.80" x2="202.50" y2="237.20" stroke="#222" stroke-width="0.8"/>
<rect x="35.90" y="226.80" width="2.2" height="7.20" fill="#000"/>
<polygon points="37.00,223.80 34.20,228.20 39.80,228.20" fill="#000"/>
<text x="24.90" y="244.90" font-size="6.7" text-anchor="start" fill="#000" >589 + heparin (0.5 IU/mL)</text>
<text x="265.50" y="131.30" font-size="12" font-weight="bold" text-anchor="start" fill="#000" class="pl">D</text>
<line x1="296.20" y1="136.60" x2="296.20" y2="220.30" stroke="#555" stroke-width="0.9"/>
<line x1="294.20" y1="220.00" x2="296.20" y2="220.00" stroke="#555" stroke-width="0.9"/>
<text x="293.50" y="222.80" font-size="6.4" text-anchor="end" fill="#000" >0</text>
<line x1="294.20" y1="203.70" x2="296.20" y2="203.70" stroke="#555" stroke-width="0.9"/>
<text x="293.50" y="206.50" font-size="6.4" text-anchor="end" fill="#000" >20</text>
<line x1="294.20" y1="187.00" x2="296.20" y2="187.00" stroke="#555" stroke-width="0.9"/>
<text x="293.50" y="189.80" font-size="6.4" text-anchor="end" fill="#000" >40</text>
<line x1="294.20" y1="170.00" x2="296.20" y2="170.00" stroke="#555" stroke-width="0.9"/>
<text x="293.50" y="172.80" font-size="6.4" text-anchor="end" fill="#000" >60</text>
<line x1="294.20" y1="153.30" x2="296.20" y2="153.30" stroke="#555" stroke-width="0.9"/>
<text x="293.50" y="156.10" font-size="6.4" text-anchor="end" fill="#000" >80</text>
<line x1="294.20" y1="136.60" x2="296.20" y2="136.60" stroke="#555" stroke-width="0.9"/>
<text x="293.50" y="139.40" font-size="6.4" text-anchor="end" fill="#000" >100</text>
<text x="0" y="0" font-size="8.0" font-weight="bold" text-anchor="middle" fill="#111" transform="translate(277.80,173.80) rotate(-90)">Aggregation (%)</text>
<polyline points="297.50,218.50 297.87,218.47 298.27,218.43 298.71,218.39 299.18,218.34 299.69,218.29 300.22,218.24 300.78,218.19 301.37,218.13 301.98,218.07 302.62,218.01 303.28,217.95 303.96,217.88 304.66,217.82 305.38,217.75 306.12,217.68 306.88,217.61 307.64,217.53 308.43,217.46 309.22,217.38 310.02,217.31 310.84,217.23 311.66,217.16 312.49,217.08 313.32,217.00 314.16,216.93 315.00,216.85 315.84,216.77 316.67,216.70 317.51,216.62 318.35,216.55 319.18,216.47 320.00,216.40 320.62,216.35 321.24,216.29 321.88,216.24 322.52,216.18 323.18,216.12 323.84,216.07 324.51,216.01 325.19,215.95 325.87,215.89 326.57,215.83 327.26,215.77 327.97,215.71 328.68,215.65 329.39,215.59 330.11,215.53 330.83,215.47 331.55,215.41 332.28,215.35 333.01,215.29 333.74,215.23 334.48,215.17 335.21,215.11 335.95,215.05 336.68,214.99 337.41,214.92 338.15,214.86 338.88,214.80 339.61,214.74 340.33,214.68 341.06,214.62 341.78,214.57 342.50,214.51 343.21,214.45 343.92,214.39 344.62,214.33 345.32,214.28 346.01,214.22 346.69,214.17 347.37,214.11 348.04,214.06 348.70,214.00 349.36,213.95 350.00,213.90 350.79,213.84 351.57,213.77 352.36,213.71 353.15,213.65 353.94,213.58 354.73,213.52 355.51,213.46 356.30,213.39 357.08,213.33 357.86,213.27 358.63,213.21 359.41,213.15 360.17,213.09 360.94,213.02 361.69,212.97 362.45,212.91 363.19,212.85 363.93,212.79 364.66,212.73 365.39,212.68 366.10,212.62 366.81,212.57 367.51,212.52 368.20,212.47 368.88,212.42 369.55,212.37 370.20,212.32 370.85,212.27 371.48,212.23 372.10,212.19 372.71,212.15 373.30,212.11 373.88,212.07 374.45,212.03 375.00,212.00 376.03,211.94 377.00,211.89 377.92,211.84 378.79,211.80 379.62,211.77 380.41,211.74 381.16,211.72 381.88,211.70 382.56,211.68 383.22,211.67 383.86,211.66 384.48,211.65 385.09,211.64 385.68,211.63 386.26,211.63 386.84,211.62 387.42,211.61 388.00,211.60 388.92,211.59 389.79,211.58 390.60,211.59 391.36,211.60 392.09,211.61 392.78,211.62 393.45,211.63 394.10,211.63 394.73,211.63 395.37,211.62 396.00,211.60 396.85,211.57 397.65,211.53 398.41,211.49 399.14,211.44 399.86,211.38 400.57,211.28 401.28,211.16 402.00,211.00 402.72,210.81 403.42,210.60 404.11,210.37 404.79,210.11 405.49,209.82 406.20,209.49 406.93,209.12 407.70,208.70 408.23,208.39 408.78,208.06 409.34,207.70 409.91,207.32 410.48,206.93 411.07,206.52 411.66,206.10 412.25,205.67 412.84,205.23 413.43,204.79 414.02,204.34 414.60,203.90 415.18,203.46 415.76,203.03 416.35,202.60 416.93,202.17 417.51,201.73 418.10,201.27 418.69,200.81 419.27,200.32 419.85,199.81 420.44,199.28 421.02,198.71 421.60,198.10 422.03,197.62 422.47,197.12 422.90,196.60 423.33,196.07 423.76,195.52 424.19,194.95 424.63,194.37 425.06,193.79 425.49,193.19 425.92,192.59 426.35,191.98 426.78,191.36 427.21,190.75 427.64,190.13 428.07,189.51 428.50,188.90 428.91,188.32 429.31,187.73 429.72,187.14 430.12,186.54 430.53,185.93 430.93,185.32 431.34,184.70 431.74,184.09 432.15,183.46 432.55,182.84 432.96,182.22 433.36,181.60 433.77,180.97 434.18,180.35 434.58,179.73 434.99,179.11 435.40,178.50 435.81,177.88 436.22,177.26 436.63,176.62 437.04,175.98 437.45,175.33 437.87,174.69 438.28,174.04 438.69,173.40 439.11,172.76 439.52,172.13 439.93,171.51 440.35,170.90 440.76,170.31 441.17,169.73 441.58,169.16 441.99,168.62 442.40,168.10 442.93,167.45 443.44,166.85 443.95,166.27 444.46,165.72 444.96,165.20 445.46,164.69 445.97,164.19 446.48,163.70 447.01,163.22 447.55,162.73 448.11,162.23 448.69,161.72 449.30,161.20 449.81,160.76 450.34,160.31 450.88,159.86 451.44,159.40 452.00,158.94 452.58,158.48 453.16,158.02 453.75,157.56 454.34,157.10 454.94,156.65 455.54,156.21 456.14,155.75 456.74,155.34 457.33,154.86 457.92,154.47 458.50,153.91 459.16,153.51 459.82,153.71 460.49,153.34 461.15,152.30 461.82,151.96 462.48,152.04 463.15,151.72 463.82,151.73 464.48,151.43 465.15,150.47 465.81,150.17 466.48,150.25 467.14,149.95 467.80,149.69 468.45,149.39 469.10,148.62 469.74,148.33 470.37,148.30 471.00,148.01 471.63,147.99 472.26,147.70 472.90,147.21 473.55,146.93 474.21,146.86 474.88,146.57 475.57,145.82 476.27,145.53 477.00,145.29 477.64,145.03 478.32,144.66 479.04,144.37 479.79,144.40 480.56,144.10 481.35,144.13 482.14,143.83 482.93,143.26 483.71,142.97 484.47,142.83 485.20,142.56 485.89,141.99 486.54,141.75 487.13,141.81 487.66,141.61 488.12,140.93 488.50,140.78" fill="none" stroke="#9a9a9a" stroke-width="0.8" stroke-linejoin="round" />
<polyline points="297.50,218.50 297.92,218.45 298.44,218.39 299.05,218.32 299.73,218.24 300.47,218.16 301.27,218.07 302.11,217.97 302.97,217.88 303.85,217.77 304.73,217.67 305.60,217.57 306.45,217.46 307.28,217.36 308.05,217.27 308.77,217.17 309.43,217.08 310.00,217.00 311.05,216.84 311.95,216.70 312.73,216.56 313.41,216.43 314.00,216.30 314.54,216.15 315.03,215.99 315.50,215.80 316.23,215.47 316.66,215.14 317.02,214.65 317.50,213.80 317.76,213.35 318.04,212.85 318.34,212.32 318.64,211.74 318.96,211.11 319.27,210.42 319.58,209.68 319.87,208.89 320.15,208.03 320.40,207.10 320.53,206.55 320.66,205.95 320.77,205.32 320.89,204.66 321.00,203.97 321.11,203.26 321.21,202.53 321.31,201.78 321.41,201.03 321.51,200.27 321.61,199.52 321.70,198.77 321.80,198.02 321.90,197.29 321.99,196.58 322.09,195.89 322.20,195.23 322.30,194.60 322.45,193.76 322.60,192.93 322.76,192.11 322.92,191.31 323.08,190.53 323.24,189.77 323.40,189.02 323.55,188.30 323.70,187.59 323.84,186.91 323.97,186.25 324.09,185.61 324.20,185.00 324.34,184.10 324.44,183.33 324.51,182.65 324.57,182.01 324.63,181.36 324.71,180.68 324.83,179.90 325.00,179.00 325.12,178.41 325.26,177.78 325.41,177.11 325.57,176.41 325.73,175.69 325.91,174.95 326.09,174.20 326.28,173.45 326.47,172.70 326.66,171.97 326.85,171.25 327.04,170.57 327.22,169.91 327.40,169.30 327.64,168.50 327.89,167.74 328.13,167.01 328.37,166.32 328.62,165.65 328.87,165.00 329.12,164.37 329.37,163.74 329.63,163.12 329.90,162.50 330.20,161.81 330.51,161.12 330.82,160.45 331.14,159.79 331.46,159.15 331.79,158.53 332.12,157.92 332.46,157.35 332.80,156.80 333.25,156.14 333.70,155.53 334.15,154.95 334.62,154.41 335.10,153.89 335.59,153.39 336.10,152.90 336.70,152.35 337.31,151.84 337.94,151.36 338.60,150.90 339.28,150.45 340.00,150.00 340.63,149.63 341.26,149.27 341.91,148.93 342.60,148.59 343.33,148.24 344.12,147.88 345.00,147.50 345.54,147.27 346.09,147.03 346.65,146.80 347.23,146.56 347.82,146.31 348.44,146.06 349.09,145.81 349.77,145.56 350.49,145.30 351.25,145.03 352.05,144.77 352.90,144.50 353.47,144.33 354.06,144.15 354.68,143.97 355.33,143.79 355.99,143.61 356.67,143.42 357.37,143.23 358.08,143.05 358.80,142.86 359.53,142.67 360.26,142.48 360.99,142.29 361.73,142.10 362.46,141.91 363.19,141.73 363.91,141.54 364.62,141.36 365.32,141.18 366.00,141.00 366.71,140.81 367.42,140.63 368.12,140.44 368.82,140.25 369.52,140.07 370.21,139.95 370.90,139.77 371.60,139.44 372.29,139.26 372.98,139.23 373.67,139.05 374.36,138.50 375.04,138.33 375.73,138.76 376.42,138.60 377.11,138.44 377.81,138.28 378.50,137.95 379.20,137.80 379.90,137.15 380.61,137.00 381.32,137.22 382.03,137.07 382.74,136.74 383.45,136.60 384.17,136.38 384.88,136.25 385.58,136.82 386.28,136.69 386.98,136.61 387.67,136.48 388.36,135.41 389.03,135.29 389.70,135.99 390.36,135.87 391.00,135.50 391.76,135.37 392.52,135.01 393.26,134.88 394.00,134.65 394.72,134.52 395.44,134.78 396.15,134.66 396.85,134.32 397.54,134.21 398.22,134.34 398.90,134.25 399.56,134.14 400.22,134.07 400.86,133.48 401.50,133.43 402.31,134.03 403.13,134.02 403.96,134.25 404.80,134.28 405.61,134.31 406.41,134.37 407.16,134.07 407.87,134.14 408.52,133.63 409.10,133.68 409.60,133.68 410.00,133.70" fill="none" stroke="#9a9a9a" stroke-width="0.8" stroke-linejoin="round" />
<polyline points="297.50,218.50 297.88,218.46 298.33,218.41 298.83,218.35 299.39,218.28 300.00,218.22 300.65,218.14 301.34,218.06 302.07,217.98 302.82,217.89 303.60,217.81 304.40,217.71 305.21,217.62 306.04,217.53 306.87,217.43 307.70,217.34 308.53,217.24 309.35,217.15 310.15,217.06 310.94,216.97 311.70,216.88 312.44,216.80 313.14,216.72 313.80,216.64 314.42,216.57 315.00,216.50 315.96,216.39 316.87,216.28 317.73,216.18 318.55,216.09 319.33,216.00 320.07,215.91 320.78,215.82 321.46,215.74 322.11,215.67 322.73,215.59 323.32,215.52 323.90,215.44 324.46,215.37 325.00,215.30 326.01,215.16 326.90,215.04 327.68,214.92 328.37,214.81 328.98,214.71 329.52,214.61 330.00,214.50 330.86,214.40 331.40,213.80 331.69,213.37 332.02,212.87 332.38,212.28 332.75,211.61 333.11,210.84 333.47,209.97 333.80,209.00 333.96,208.48 334.11,207.93 334.26,207.36 334.40,206.78 334.54,206.16 334.69,205.53 334.82,204.86 334.96,204.17 335.10,203.45 335.24,202.71 335.38,201.93 335.52,201.12 335.66,200.28 335.80,199.40 335.89,198.81 335.98,198.19 336.07,197.54 336.16,196.87 336.25,196.16 336.34,195.44 336.43,194.70 336.52,193.95 336.61,193.19 336.70,192.43 336.79,191.66 336.88,190.89 336.97,190.12 337.06,189.37 337.15,188.62 337.24,187.89 337.33,187.17 337.42,186.48 337.52,185.82 337.61,185.18 337.70,184.57 337.80,184.00 337.96,183.09 338.13,182.24 338.30,181.44 338.47,180.68 338.65,179.96 338.82,179.28 338.99,178.63 339.17,178.00 339.34,177.40 339.51,176.81 339.68,176.23 339.84,175.67 340.00,175.10 340.25,174.23 340.47,173.46 340.69,172.74 340.91,172.07 341.13,171.41 341.36,170.75 341.62,170.05 341.90,169.30 342.14,168.66 342.40,167.99 342.67,167.30 342.94,166.60 343.22,165.89 343.52,165.19 343.82,164.49 344.14,163.81 344.46,163.14 344.80,162.50 345.19,161.81 345.60,161.14 346.03,160.49 346.47,159.85 346.92,159.22 347.37,158.60 347.82,157.99 348.27,157.39 348.70,156.80 349.16,156.15 349.60,155.51 350.03,154.88 350.46,154.27 350.90,153.67 351.38,153.07 351.91,152.48 352.50,151.90 353.02,151.43 353.58,150.97 354.18,150.51 354.80,150.05 355.44,149.60 356.10,149.16 356.76,148.72 357.42,148.30 358.07,147.89 358.70,147.50 359.32,147.12 359.94,146.76 360.55,146.41 361.17,146.07 361.79,145.74 362.41,145.42 363.04,145.11 363.68,144.80 364.33,144.50 365.00,144.20 365.66,143.91 366.28,143.64 366.90,143.38 367.51,143.13 368.15,142.89 368.82,142.64 369.55,142.38 370.34,142.11 371.22,141.82 372.20,141.50 372.74,141.33 373.30,141.15 373.90,140.96 374.53,140.77 375.18,140.57 375.86,140.36 376.55,140.15 377.25,139.94 377.97,139.73 378.69,139.51 379.42,139.30 380.16,139.09 380.89,138.88 381.61,138.68 382.33,138.48 383.04,138.28 383.73,138.10 384.41,137.92 385.07,137.76 385.70,137.60 386.47,137.42 387.21,137.24 387.94,137.08 388.66,136.92 389.37,136.77 390.07,136.63 390.76,136.49 391.44,136.36 392.13,136.24 392.81,136.12 393.49,136.01 394.18,135.90 394.87,135.79 395.57,135.69 396.28,135.59 397.00,135.50 397.71,135.41 398.45,135.33 399.23,135.26 400.03,135.19 400.84,135.12 401.67,135.06 402.49,135.00 403.30,134.94 404.10,134.89 404.88,134.85 405.62,134.80 406.33,134.76 406.99,134.72 407.59,134.69 408.13,134.66 408.61,134.63 409.00,134.60" fill="none" stroke="#9a9a9a" stroke-width="0.8" stroke-linejoin="round" />
<polyline points="297.50,218.50 297.88,218.46 298.31,218.42 298.78,218.37 299.30,218.32 299.86,218.26 300.46,218.20 301.10,218.14 301.77,218.07 302.46,218.00 303.19,217.93 303.94,217.86 304.71,217.78 305.49,217.70 306.30,217.62 307.11,217.54 307.94,217.46 308.77,217.37 309.60,217.29 310.44,217.20 311.27,217.12 312.10,217.04 312.92,216.95 313.72,216.87 314.52,216.79 315.29,216.71 316.05,216.63 316.78,216.55 317.49,216.47 318.17,216.40 318.81,216.33 319.43,216.26 320.00,216.20 320.97,216.09 321.91,215.98 322.82,215.87 323.71,215.77 324.56,215.67 325.38,215.57 326.18,215.47 326.94,215.37 327.68,215.27 328.38,215.18 329.06,215.09 329.71,215.00 330.33,214.91 330.92,214.83 331.48,214.74 332.02,214.66 332.52,214.58 333.00,214.50 334.35,214.32 335.19,214.27 335.72,214.19 336.16,213.94 336.70,213.40 337.06,212.95 337.41,212.41 337.74,211.81 338.07,211.14 338.39,210.41 338.70,209.64 339.00,208.82 339.30,207.97 339.60,207.10 339.79,206.52 339.97,205.91 340.16,205.28 340.34,204.63 340.51,203.96 340.69,203.28 340.86,202.58 341.03,201.87 341.20,201.15 341.37,200.43 341.53,199.70 341.69,198.96 341.85,198.23 342.00,197.50 342.14,196.81 342.27,196.10 342.40,195.38 342.53,194.65 342.65,193.91 342.77,193.17 342.89,192.42 343.01,191.67 343.13,190.93 343.25,190.19 343.37,189.46 343.50,188.74 343.63,188.04 343.76,187.36 343.90,186.70 344.08,185.90 344.27,185.13 344.46,184.38 344.66,183.64 344.86,182.93 345.07,182.22 345.27,181.52 345.48,180.82 345.69,180.13 345.89,179.43 346.10,178.72 346.30,178.00 346.50,177.27 346.69,176.54 346.89,175.80 347.08,175.06 347.27,174.32 347.47,173.59 347.66,172.85 347.86,172.13 348.06,171.40 348.27,170.69 348.48,169.99 348.70,169.30 348.94,168.56 349.18,167.81 349.43,167.08 349.68,166.35 349.93,165.63 350.19,164.92 350.46,164.22 350.73,163.54 351.01,162.87 351.30,162.22 351.60,161.60 351.98,160.86 352.36,160.16 352.76,159.47 353.17,158.82 353.59,158.18 354.02,157.56 354.46,156.96 354.92,156.37 355.40,155.80 355.89,155.24 356.40,154.71 356.92,154.19 357.46,153.69 358.01,153.21 358.57,152.74 359.14,152.28 359.71,151.84 360.30,151.40 360.90,150.98 361.50,150.58 362.12,150.20 362.75,149.83 363.39,149.46 364.03,149.10 364.68,148.74 365.34,148.38 366.00,148.00 366.58,147.65 367.13,147.31 367.68,146.96 368.22,146.62 368.78,146.27 369.36,145.92 369.99,145.57 370.66,145.21 371.39,144.86 372.20,144.50 372.75,144.27 373.33,144.04 373.94,143.80 374.57,143.56 375.23,143.31 375.90,143.07 376.60,142.82 377.30,142.57 378.01,142.33 378.73,142.09 379.46,141.86 380.18,141.63 380.90,141.41 381.61,141.20 382.31,140.99 383.00,140.80 383.70,140.61 384.44,140.43 385.21,140.25 385.99,140.07 386.79,139.90 387.59,139.73 388.39,139.57 389.18,139.42 389.94,139.27 390.67,139.13 391.37,139.00 392.02,138.88 392.62,138.77 393.15,138.67 393.61,138.58 394.00,138.50" fill="none" stroke="#9a9a9a" stroke-width="0.8" stroke-linejoin="round" />
<polyline points="297.50,218.50 297.88,218.46 298.30,218.42 298.77,218.37 299.27,218.32 299.82,218.26 300.40,218.21 301.02,218.14 301.67,218.08 302.35,218.01 303.05,217.94 303.78,217.86 304.53,217.79 305.30,217.71 306.08,217.63 306.88,217.55 307.69,217.47 308.50,217.39 309.33,217.30 310.15,217.22 310.98,217.13 311.80,217.05 312.62,216.97 313.43,216.88 314.23,216.80 315.02,216.72 315.80,216.64 316.56,216.56 317.30,216.48 318.01,216.41 318.70,216.34 319.37,216.27 320.00,216.20 320.82,216.11 321.65,216.02 322.48,215.94 323.31,215.85 324.13,215.76 324.95,215.67 325.76,215.59 326.57,215.50 327.37,215.41 328.15,215.33 328.92,215.25 329.68,215.16 330.42,215.08 331.15,215.00 331.85,214.92 332.53,214.84 333.19,214.77 333.82,214.70 334.43,214.62 335.01,214.55 335.55,214.49 336.07,214.42 336.55,214.36 337.00,214.30 338.59,214.13 339.44,214.08 339.85,214.03 340.14,213.85 340.60,213.40 340.99,212.98 341.36,212.51 341.72,211.97 342.07,211.36 342.41,210.67 342.76,209.90 343.12,209.05 343.50,208.10 343.71,207.54 343.93,206.93 344.16,206.27 344.39,205.57 344.63,204.84 344.86,204.09 345.10,203.33 345.34,202.55 345.57,201.77 345.80,201.00 346.02,200.24 346.23,199.51 346.43,198.80 346.62,198.13 346.80,197.50 347.02,196.71 347.22,196.00 347.40,195.33 347.56,194.69 347.72,194.08 347.87,193.47 348.01,192.85 348.15,192.21 348.29,191.53 348.44,190.80 348.60,190.00 348.72,189.36 348.84,188.68 348.96,187.97 349.09,187.23 349.21,186.47 349.33,185.70 349.46,184.91 349.58,184.12 349.70,183.34 349.82,182.56 349.94,181.80 350.06,181.05 350.18,180.33 350.29,179.65 350.40,179.00 350.55,178.17 350.68,177.37 350.81,176.61 350.94,175.88 351.07,175.18 351.19,174.49 351.32,173.82 351.46,173.16 351.59,172.51 351.74,171.86 351.90,171.20 352.08,170.48 352.27,169.78 352.46,169.08 352.66,168.40 352.86,167.72 353.07,167.06 353.29,166.41 353.52,165.76 353.75,165.13 354.00,164.50 354.28,163.82 354.55,163.15 354.83,162.50 355.11,161.86 355.42,161.23 355.74,160.60 356.09,159.97 356.48,159.34 356.90,158.70 357.28,158.17 357.68,157.62 358.11,157.07 358.55,156.51 359.02,155.96 359.50,155.41 359.99,154.87 360.48,154.34 360.99,153.84 361.49,153.36 362.00,152.90 362.56,152.43 363.13,151.99 363.70,151.58 364.29,151.18 364.88,150.81 365.48,150.44 366.10,150.08 366.72,149.72 367.36,149.37 368.00,149.00 368.59,148.67 369.18,148.34 369.78,148.02 370.39,147.70 371.00,147.38 371.63,147.07 372.27,146.76 372.92,146.44 373.59,146.13 374.28,145.82 375.00,145.50 375.62,145.23 376.26,144.95 376.92,144.67 377.59,144.39 378.27,144.11 378.96,143.83 379.66,143.55 380.37,143.27 381.09,143.00 381.81,142.74 382.54,142.48 383.27,142.24 384.00,142.00 384.71,141.78 385.46,141.57 386.26,141.35 387.08,141.14 387.91,140.93 388.74,140.73 389.56,140.53 390.36,140.34 391.13,140.17 391.84,140.00 392.50,139.85 393.09,139.72 393.59,139.60 394.00,139.50" fill="none" stroke="#9a9a9a" stroke-width="0.8" stroke-linejoin="round" />
<text x="303.70" y="158.50" font-size="6.0" font-weight="bold" text-anchor="start" fill="#000" >0 mg/ml</text>
<line x1="319.20" y1="161.10" x2="327.90" y2="164.77" stroke="#222" stroke-width="0.8"/>
<polygon points="329.40,165.40 326.68,165.54 327.60,163.36" fill="#222"/>
<text x="369.50" y="173.50" font-size="6.0" font-weight="bold" text-anchor="start" fill="#000" >2 mg/mL</text>
<line x1="367.40" y1="171.20" x2="345.72" y2="171.20" stroke="#aaa" stroke-width="0.6"/>
<polygon points="343.90,171.20 346.64,169.88 346.64,172.52" fill="#444"/>
<text x="369.50" y="184.50" font-size="6.0" font-weight="bold" text-anchor="start" fill="#000" >4 mg/mL</text>
<line x1="367.40" y1="181.70" x2="350.02" y2="181.70" stroke="#aaa" stroke-width="0.6"/>
<polygon points="348.20,181.70 350.94,180.38 350.94,183.02" fill="#444"/>
<text x="369.50" y="195.20" font-size="6.0" font-weight="bold" text-anchor="start" fill="#000" >5 mg/mL</text>
<line x1="367.40" y1="191.30" x2="352.42" y2="191.30" stroke="#aaa" stroke-width="0.6"/>
<polygon points="350.60,191.30 353.34,189.98 353.34,192.62" fill="#444"/>
<text x="459.50" y="185.30" font-size="6.0" font-weight="bold" text-anchor="start" fill="#000" >10 mg/mL</text>
<line x1="455.10" y1="180.30" x2="443.44" y2="176.24" stroke="#222" stroke-width="0.7"/>
<polygon points="441.90,175.70 444.60,175.39 443.82,177.62" fill="#222"/>
<text x="450.65" y="229.20" font-size="5.2" text-anchor="middle" fill="#000" >120 sec</text>
<line x1="440.80" y1="231.50" x2="460.50" y2="231.50" stroke="#222" stroke-width="0.8"/>
<line x1="440.80" y1="229.80" x2="440.80" y2="233.20" stroke="#222" stroke-width="0.8"/>
<line x1="460.50" y1="229.80" x2="460.50" y2="233.20" stroke="#222" stroke-width="0.8"/>
<rect x="299.30" y="225.70" width="2.2" height="7.40" fill="#000"/>
<polygon points="300.40,222.70 297.60,227.10 303.20,227.10" fill="#000"/>
<text x="287.90" y="243.40" font-size="6.7" text-anchor="start" fill="#000" >5B9 + heparin (0.5 IU/mL)</text>
<text x="2.00" y="267.20" font-size="12" font-weight="bold" text-anchor="start" fill="#000" class="pl">E</text>
<line x1="28.80" y1="281.70" x2="28.80" y2="356.30" stroke="#888" stroke-width="0.7"/>
<line x1="27.00" y1="356.30" x2="28.80" y2="356.30" stroke="#888" stroke-width="0.7"/>
<text x="27.00" y="359.20" font-size="8.2" text-anchor="end" fill="#000" >0</text>
<line x1="27.00" y1="343.87" x2="28.80" y2="343.87" stroke="#888" stroke-width="0.7"/>
<text x="27.00" y="346.77" font-size="8.2" text-anchor="end" fill="#000" >200</text>
<line x1="27.00" y1="331.43" x2="28.80" y2="331.43" stroke="#888" stroke-width="0.7"/>
<text x="27.00" y="334.33" font-size="8.2" text-anchor="end" fill="#000" >400</text>
<line x1="27.00" y1="319.00" x2="28.80" y2="319.00" stroke="#888" stroke-width="0.7"/>
<text x="27.00" y="321.90" font-size="8.2" text-anchor="end" fill="#000" >600</text>
<line x1="27.00" y1="306.57" x2="28.80" y2="306.57" stroke="#888" stroke-width="0.7"/>
<text x="27.00" y="309.47" font-size="8.2" text-anchor="end" fill="#000" >800</text>
<line x1="27.00" y1="294.13" x2="28.80" y2="294.13" stroke="#888" stroke-width="0.7"/>
<text x="27.00" y="297.03" font-size="8.2" text-anchor="end" fill="#000" >1000</text>
<line x1="27.00" y1="281.70" x2="28.80" y2="281.70" stroke="#888" stroke-width="0.7"/>
<text x="27.00" y="284.60" font-size="8.2" text-anchor="end" fill="#000" >1200</text>
<text x="0" y="0" font-size="8.1" font-weight="bold" text-anchor="middle" fill="#111" transform="translate(7.00,313.00) rotate(-90)">Lagtime (sec)</text>
<polygon points="28.80,356.30 223.00,356.80 243.50,339.80 49.30,339.30" fill="#ffffff" stroke="#8c8c8c" stroke-width="0.6" stroke-linejoin="round"/>
<line x1="61.00" y1="356.50" x2="61.00" y2="358.10" stroke="#8c8c8c" stroke-width="0.6"/>
<line x1="93.50" y1="356.50" x2="93.50" y2="358.10" stroke="#8c8c8c" stroke-width="0.6"/>
<line x1="126.00" y1="356.50" x2="126.00" y2="358.10" stroke="#8c8c8c" stroke-width="0.6"/>
<line x1="158.50" y1="356.50" x2="158.50" y2="358.10" stroke="#8c8c8c" stroke-width="0.6"/>
<line x1="191.00" y1="356.50" x2="191.00" y2="358.10" stroke="#8c8c8c" stroke-width="0.6"/>
<polygon points="40.40,282.50 44.70,282.50 44.70,286.80 40.40,286.80" fill="#fff" stroke="#444" stroke-width="0.6" stroke-linejoin="round"/>
<text x="47.80" y="287.40" font-size="6.0" font-weight="bold" text-anchor="start" fill="#000" >RR (n=4)</text>
<polygon points="81.00,282.50 86.20,282.50 86.20,286.80 81.00,286.80" fill="#8e8e8e" stroke="#333" stroke-width="0.6" stroke-linejoin="round"/>
<text x="88.50" y="287.40" font-size="6.0" font-weight="bold" text-anchor="start" fill="#000" >HH (n=4)</text>
<line x1="62.40" y1="332.70" x2="62.40" y2="336.20" stroke="#444" stroke-width="1.0"/>
<line x1="61.10" y1="332.70" x2="63.70" y2="332.70" stroke="#444" stroke-width="0.8"/>
<polygon points="66.00,337.70 70.30,334.80 70.30,342.90 66.00,345.80" fill="#a4a4a4" stroke="#3a3a3a" stroke-width="0.6" stroke-linejoin="round"/>
<polygon points="53.20,337.70 57.50,334.80 70.30,334.80 66.00,337.70" fill="#a8a8a8" stroke="#3a3a3a" stroke-width="0.6" stroke-linejoin="round"/>
<polygon points="53.20,337.70 66.00,337.70 66.00,345.80 53.20,345.80" fill="#9a9a9a" stroke="#3a3a3a" stroke-width="0.6" stroke-linejoin="round"/>
<line x1="49.85" y1="340.00" x2="49.85" y2="343.90" stroke="#444" stroke-width="1.0"/>
<line x1="48.55" y1="340.00" x2="51.15" y2="340.00" stroke="#444" stroke-width="0.8"/>
<polygon points="54.50,345.40 58.20,342.50 58.20,350.60 54.50,353.50" fill="#f3f3f3" stroke="#7a7a7a" stroke-width="0.6" stroke-linejoin="round"/>
<polygon points="41.20,345.40 44.90,342.50 58.20,342.50 54.50,345.40" fill="#f8f8f8" stroke="#7a7a7a" stroke-width="0.6" stroke-linejoin="round"/>
<polygon points="41.20,345.40 54.50,345.40 54.50,353.50 41.20,353.50" fill="#fbfbfb" stroke="#7a7a7a" stroke-width="0.6" stroke-linejoin="round"/>
<line x1="94.20" y1="308.80" x2="94.20" y2="320.50" stroke="#444" stroke-width="1.0"/>
<line x1="92.90" y1="308.80" x2="95.50" y2="308.80" stroke="#444" stroke-width="0.8"/>
<polygon points="97.80,322.00 102.10,319.10 102.10,342.90 97.80,345.80" fill="#a4a4a4" stroke="#3a3a3a" stroke-width="0.6" stroke-linejoin="round"/>
<polygon points="85.00,322.00 89.30,319.10 102.10,319.10 97.80,322.00" fill="#a8a8a8" stroke="#3a3a3a" stroke-width="0.6" stroke-linejoin="round"/>
<polygon points="85.00,322.00 97.80,322.00 97.80,345.80 85.00,345.80" fill="#9a9a9a" stroke="#3a3a3a" stroke-width="0.6" stroke-linejoin="round"/>
<line x1="82.24" y1="335.00" x2="82.24" y2="338.00" stroke="#444" stroke-width="1.0"/>
<line x1="80.94" y1="335.00" x2="83.54" y2="335.00" stroke="#444" stroke-width="0.8"/>
<polygon points="86.90,339.50 90.60,336.60 90.60,350.60 86.90,353.50" fill="#f3f3f3" stroke="#7a7a7a" stroke-width="0.6" stroke-linejoin="round"/>
<polygon points="73.60,339.50 77.30,336.60 90.60,336.60 86.90,339.50" fill="#f8f8f8" stroke="#7a7a7a" stroke-width="0.6" stroke-linejoin="round"/>
<polygon points="73.60,339.50 86.90,339.50 86.90,353.50 73.60,353.50" fill="#fbfbfb" stroke="#7a7a7a" stroke-width="0.6" stroke-linejoin="round"/>
<line x1="126.40" y1="293.80" x2="126.40" y2="306.00" stroke="#444" stroke-width="1.0"/>
<line x1="125.10" y1="293.80" x2="127.70" y2="293.80" stroke="#444" stroke-width="0.8"/>
<polygon points="130.00,307.50 134.30,304.60 134.30,342.90 130.00,345.80" fill="#a4a4a4" stroke="#3a3a3a" stroke-width="0.6" stroke-linejoin="round"/>
<polygon points="117.20,307.50 121.50,304.60 134.30,304.60 130.00,307.50" fill="#a8a8a8" stroke="#3a3a3a" stroke-width="0.6" stroke-linejoin="round"/>
<polygon points="117.20,307.50 130.00,307.50 130.00,345.80 117.20,345.80" fill="#9a9a9a" stroke="#3a3a3a" stroke-width="0.6" stroke-linejoin="round"/>
<line x1="114.64" y1="328.00" x2="114.64" y2="331.50" stroke="#444" stroke-width="1.0"/>
<line x1="113.34" y1="328.00" x2="115.94" y2="328.00" stroke="#444" stroke-width="0.8"/>
<polygon points="119.30,333.00 123.00,330.10 123.00,350.60 119.30,353.50" fill="#f3f3f3" stroke="#7a7a7a" stroke-width="0.6" stroke-linejoin="round"/>
<polygon points="106.00,333.00 109.70,330.10 123.00,330.10 119.30,333.00" fill="#f8f8f8" stroke="#7a7a7a" stroke-width="0.6" stroke-linejoin="round"/>
<polygon points="106.00,333.00 119.30,333.00 119.30,353.50 106.00,353.50" fill="#fbfbfb" stroke="#7a7a7a" stroke-width="0.6" stroke-linejoin="round"/>
<line x1="159.00" y1="281.30" x2="159.00" y2="290.50" stroke="#444" stroke-width="1.0"/>
<line x1="157.70" y1="281.30" x2="160.30" y2="281.30" stroke="#444" stroke-width="0.8"/>
<polygon points="162.60,292.00 166.90,289.10 166.90,342.90 162.60,345.80" fill="#a4a4a4" stroke="#3a3a3a" stroke-width="0.6" stroke-linejoin="round"/>
<polygon points="149.80,292.00 154.10,289.10 166.90,289.10 162.60,292.00" fill="#a8a8a8" stroke="#3a3a3a" stroke-width="0.6" stroke-linejoin="round"/>
<polygon points="149.80,292.00 162.60,292.00 162.60,345.80 149.80,345.80" fill="#9a9a9a" stroke="#3a3a3a" stroke-width="0.6" stroke-linejoin="round"/>
<line x1="147.25" y1="323.60" x2="147.25" y2="329.00" stroke="#444" stroke-width="1.0"/>
<line x1="145.94" y1="323.60" x2="148.55" y2="323.60" stroke="#444" stroke-width="0.8"/>
<polygon points="151.90,330.50 155.60,327.60 155.60,350.60 151.90,353.50" fill="#f3f3f3" stroke="#7a7a7a" stroke-width="0.6" stroke-linejoin="round"/>
<polygon points="138.60,330.50 142.30,327.60 155.60,327.60 151.90,330.50" fill="#f8f8f8" stroke="#7a7a7a" stroke-width="0.6" stroke-linejoin="round"/>
<polygon points="138.60,330.50 151.90,330.50 151.90,353.50 138.60,353.50" fill="#fbfbfb" stroke="#7a7a7a" stroke-width="0.6" stroke-linejoin="round"/>
<polygon points="195.00,281.30 199.30,278.40 199.30,342.90 195.00,345.80" fill="#a4a4a4" stroke="#3a3a3a" stroke-width="0.6" stroke-linejoin="round"/>
<polygon points="182.20,281.30 186.50,278.40 199.30,278.40 195.00,281.30" fill="#a8a8a8" stroke="#3a3a3a" stroke-width="0.6" stroke-linejoin="round"/>
<polygon points="182.20,281.30 195.00,281.30 195.00,345.80 182.20,345.80" fill="#9a9a9a" stroke="#3a3a3a" stroke-width="0.6" stroke-linejoin="round"/>
<line x1="179.75" y1="318.00" x2="179.75" y2="322.80" stroke="#444" stroke-width="1.0"/>
<line x1="178.44" y1="318.00" x2="181.05" y2="318.00" stroke="#444" stroke-width="0.8"/>
<polygon points="184.40,324.30 188.10,321.40 188.10,350.60 184.40,353.50" fill="#f3f3f3" stroke="#7a7a7a" stroke-width="0.6" stroke-linejoin="round"/>
<polygon points="171.10,324.30 174.80,321.40 188.10,321.40 184.40,324.30" fill="#f8f8f8" stroke="#7a7a7a" stroke-width="0.6" stroke-linejoin="round"/>
<polygon points="171.10,324.30 184.40,324.30 184.40,353.50 171.10,353.50" fill="#fbfbfb" stroke="#7a7a7a" stroke-width="0.6" stroke-linejoin="round"/>
<polygon points="227.40,281.30 231.70,278.40 231.70,342.90 227.40,345.80" fill="#a4a4a4" stroke="#3a3a3a" stroke-width="0.6" stroke-linejoin="round"/>
<polygon points="214.60,281.30 218.90,278.40 231.70,278.40 227.40,281.30" fill="#a8a8a8" stroke="#3a3a3a" stroke-width="0.6" stroke-linejoin="round"/>
<polygon points="214.60,281.30 227.40,281.30 227.40,345.80 214.60,345.80" fill="#9a9a9a" stroke="#3a3a3a" stroke-width="0.6" stroke-linejoin="round"/>
<line x1="212.15" y1="305.10" x2="212.15" y2="315.70" stroke="#444" stroke-width="1.0"/>
<line x1="210.84" y1="305.10" x2="213.45" y2="305.10" stroke="#444" stroke-width="0.8"/>
<polygon points="216.80,317.20 220.50,314.30 220.50,350.60 216.80,353.50" fill="#f3f3f3" stroke="#7a7a7a" stroke-width="0.6" stroke-linejoin="round"/>
<polygon points="203.50,317.20 207.20,314.30 220.50,314.30 216.80,317.20" fill="#f8f8f8" stroke="#7a7a7a" stroke-width="0.6" stroke-linejoin="round"/>
<polygon points="203.50,317.20 216.80,317.20 216.80,353.50 203.50,353.50" fill="#fbfbfb" stroke="#7a7a7a" stroke-width="0.6" stroke-linejoin="round"/>
<circle cx="158.8" cy="275.4" r="1.5" fill="#111"/>
<circle cx="192.1" cy="275.4" r="1.5" fill="#111"/>
<circle cx="225.0" cy="275.4" r="1.5" fill="#111"/>
<text x="48.00" y="369.20" font-size="8.0" text-anchor="middle" fill="#000" >0</text>
<text x="80.40" y="369.20" font-size="8.0" text-anchor="middle" fill="#000" >1</text>
<text x="112.80" y="369.20" font-size="8.0" text-anchor="middle" fill="#000" >2</text>
<text x="145.20" y="369.20" font-size="8.0" text-anchor="middle" fill="#000" >3</text>
<text x="177.60" y="369.20" font-size="8.0" text-anchor="middle" fill="#000" >4</text>
<text x="210.00" y="369.20" font-size="8.0" text-anchor="middle" fill="#000" >5</text>
<text x="131.70" y="379.20" font-size="8.0" text-anchor="middle" fill="#000" >IgG (mg/mL)</text>
<text x="264.00" y="266.50" font-size="12" font-weight="bold" text-anchor="start" fill="#000" class="pl">F</text>
<line x1="297.20" y1="276.60" x2="297.20" y2="352.70" stroke="#888" stroke-width="0.7"/>
<line x1="295.40" y1="352.70" x2="297.20" y2="352.70" stroke="#888" stroke-width="0.7"/>
<text x="295.40" y="356.60" font-size="8.2" text-anchor="end" fill="#000" >0</text>
<line x1="295.40" y1="340.02" x2="297.20" y2="340.02" stroke="#888" stroke-width="0.7"/>
<text x="295.40" y="343.82" font-size="8.2" text-anchor="end" fill="#000" >200</text>
<line x1="295.40" y1="327.33" x2="297.20" y2="327.33" stroke="#888" stroke-width="0.7"/>
<text x="295.40" y="331.03" font-size="8.2" text-anchor="end" fill="#000" >400</text>
<line x1="295.40" y1="314.65" x2="297.20" y2="314.65" stroke="#888" stroke-width="0.7"/>
<text x="295.40" y="318.25" font-size="8.2" text-anchor="end" fill="#000" >600</text>
<line x1="295.40" y1="301.97" x2="297.20" y2="301.97" stroke="#888" stroke-width="0.7"/>
<text x="295.40" y="305.47" font-size="8.2" text-anchor="end" fill="#000" >800</text>
<line x1="295.40" y1="289.28" x2="297.20" y2="289.28" stroke="#888" stroke-width="0.7"/>
<text x="295.40" y="292.68" font-size="8.2" text-anchor="end" fill="#000" >1000</text>
<line x1="295.40" y1="276.60" x2="297.20" y2="276.60" stroke="#888" stroke-width="0.7"/>
<text x="295.40" y="279.90" font-size="8.2" text-anchor="end" fill="#000" >1200</text>
<text x="0" y="0" font-size="8.1" font-weight="bold" text-anchor="middle" fill="#111" transform="translate(275.00,309.50) rotate(-90)">Lagtime (sec)</text>
<polygon points="297.40,352.50 500.80,352.50 521.00,343.20 317.60,343.20" fill="#ffffff" stroke="#8c8c8c" stroke-width="0.6" stroke-linejoin="round"/>
<line x1="325.90" y1="352.70" x2="325.90" y2="354.30" stroke="#8c8c8c" stroke-width="0.6"/>
<line x1="354.80" y1="352.70" x2="354.80" y2="354.30" stroke="#8c8c8c" stroke-width="0.6"/>
<line x1="383.70" y1="352.70" x2="383.70" y2="354.30" stroke="#8c8c8c" stroke-width="0.6"/>
<line x1="412.60" y1="352.70" x2="412.60" y2="354.30" stroke="#8c8c8c" stroke-width="0.6"/>
<line x1="441.50" y1="352.70" x2="441.50" y2="354.30" stroke="#8c8c8c" stroke-width="0.6"/>
<line x1="470.40" y1="352.70" x2="470.40" y2="354.30" stroke="#8c8c8c" stroke-width="0.6"/>
<polygon points="306.30,280.00 311.30,280.00 311.30,284.00 306.30,284.00" fill="#fff" stroke="#444" stroke-width="0.6" stroke-linejoin="round"/>
<text x="313.30" y="284.30" font-size="6.0" font-weight="bold" text-anchor="start" fill="#000" >RR (n=4)</text>
<polygon points="346.30,280.00 351.30,280.00 351.30,284.00 346.30,284.00" fill="#8e8e8e" stroke="#333" stroke-width="0.6" stroke-linejoin="round"/>
<text x="353.80" y="284.30" font-size="6.0" font-weight="bold" text-anchor="start" fill="#000" >HH (n=4)</text>
<line x1="327.60" y1="335.80" x2="327.60" y2="338.90" stroke="#999" stroke-width="1.0"/>
<line x1="326.30" y1="335.80" x2="328.90" y2="335.80" stroke="#999" stroke-width="0.8"/>
<polygon points="331.20,339.90 335.00,338.00 335.00,344.30 331.20,346.20" fill="#a4a4a4" stroke="#3a3a3a" stroke-width="0.6" stroke-linejoin="round"/>
<polygon points="319.80,339.90 323.60,338.00 335.00,338.00 331.20,339.90" fill="#a8a8a8" stroke="#3a3a3a" stroke-width="0.6" stroke-linejoin="round"/>
<polygon points="319.80,339.90 331.20,339.90 331.20,346.20 319.80,346.20" fill="#9a9a9a" stroke="#3a3a3a" stroke-width="0.6" stroke-linejoin="round"/>
<line x1="317.20" y1="340.40" x2="317.20" y2="343.20" stroke="#999" stroke-width="1.0"/>
<line x1="315.90" y1="340.40" x2="318.50" y2="340.40" stroke="#999" stroke-width="0.8"/>
<polygon points="321.40,344.20 325.20,342.30 325.20,349.60 321.40,351.50" fill="#f3f3f3" stroke="#7a7a7a" stroke-width="0.6" stroke-linejoin="round"/>
<polygon points="309.40,344.20 313.20,342.30 325.20,342.30 321.40,344.20" fill="#f8f8f8" stroke="#7a7a7a" stroke-width="0.6" stroke-linejoin="round"/>
<polygon points="309.40,344.20 321.40,344.20 321.40,351.50 309.40,351.50" fill="#fbfbfb" stroke="#7a7a7a" stroke-width="0.6" stroke-linejoin="round"/>
<line x1="356.20" y1="317.60" x2="356.20" y2="326.60" stroke="#999" stroke-width="1.0"/>
<line x1="354.90" y1="317.60" x2="357.50" y2="317.60" stroke="#999" stroke-width="0.8"/>
<polygon points="359.80,327.60 363.60,325.70 363.60,344.30 359.80,346.20" fill="#a4a4a4" stroke="#3a3a3a" stroke-width="0.6" stroke-linejoin="round"/>
<polygon points="348.40,327.60 352.20,325.70 363.60,325.70 359.80,327.60" fill="#a8a8a8" stroke="#3a3a3a" stroke-width="0.6" stroke-linejoin="round"/>
<polygon points="348.40,327.60 359.80,327.60 359.80,346.20 348.40,346.20" fill="#9a9a9a" stroke="#3a3a3a" stroke-width="0.6" stroke-linejoin="round"/>
<line x1="346.20" y1="328.60" x2="346.20" y2="334.40" stroke="#999" stroke-width="1.0"/>
<line x1="344.90" y1="328.60" x2="347.50" y2="328.60" stroke="#999" stroke-width="0.8"/>
<polygon points="350.40,335.40 354.20,333.50 354.20,349.60 350.40,351.50" fill="#f3f3f3" stroke="#7a7a7a" stroke-width="0.6" stroke-linejoin="round"/>
<polygon points="338.40,335.40 342.20,333.50 354.20,333.50 350.40,335.40" fill="#f8f8f8" stroke="#7a7a7a" stroke-width="0.6" stroke-linejoin="round"/>
<polygon points="338.40,335.40 350.40,335.40 350.40,351.50 338.40,351.50" fill="#fbfbfb" stroke="#7a7a7a" stroke-width="0.6" stroke-linejoin="round"/>
<line x1="385.00" y1="302.00" x2="385.00" y2="309.80" stroke="#999" stroke-width="1.0"/>
<line x1="383.70" y1="302.00" x2="386.30" y2="302.00" stroke="#999" stroke-width="0.8"/>
<polygon points="388.60,310.80 392.40,308.90 392.40,344.30 388.60,346.20" fill="#a4a4a4" stroke="#3a3a3a" stroke-width="0.6" stroke-linejoin="round"/>
<polygon points="377.20,310.80 381.00,308.90 392.40,308.90 388.60,310.80" fill="#a8a8a8" stroke="#3a3a3a" stroke-width="0.6" stroke-linejoin="round"/>
<polygon points="377.20,310.80 388.60,310.80 388.60,346.20 377.20,346.20" fill="#9a9a9a" stroke="#3a3a3a" stroke-width="0.6" stroke-linejoin="round"/>
<line x1="375.20" y1="320.00" x2="375.20" y2="328.60" stroke="#999" stroke-width="1.0"/>
<line x1="373.90" y1="320.00" x2="376.50" y2="320.00" stroke="#999" stroke-width="0.8"/>
<polygon points="379.40,329.60 383.20,327.70 383.20,349.60 379.40,351.50" fill="#f3f3f3" stroke="#7a7a7a" stroke-width="0.6" stroke-linejoin="round"/>
<polygon points="367.40,329.60 371.20,327.70 383.20,327.70 379.40,329.60" fill="#f8f8f8" stroke="#7a7a7a" stroke-width="0.6" stroke-linejoin="round"/>
<polygon points="367.40,329.60 379.40,329.60 379.40,351.50 367.40,351.50" fill="#fbfbfb" stroke="#7a7a7a" stroke-width="0.6" stroke-linejoin="round"/>
<polygon points="416.80,279.50 420.60,277.60 420.60,344.30 416.80,346.20" fill="#a4a4a4" stroke="#3a3a3a" stroke-width="0.6" stroke-linejoin="round"/>
<polygon points="405.40,279.50 409.20,277.60 420.60,277.60 416.80,279.50" fill="#a8a8a8" stroke="#3a3a3a" stroke-width="0.6" stroke-linejoin="round"/>
<polygon points="405.40,279.50 416.80,279.50 416.80,346.20 405.40,346.20" fill="#9a9a9a" stroke="#3a3a3a" stroke-width="0.6" stroke-linejoin="round"/>
<line x1="403.80" y1="291.30" x2="403.80" y2="300.30" stroke="#999" stroke-width="1.0"/>
<line x1="402.50" y1="291.30" x2="405.10" y2="291.30" stroke="#999" stroke-width="0.8"/>
<polygon points="408.00,301.30 411.80,299.40 411.80,349.60 408.00,351.50" fill="#f3f3f3" stroke="#7a7a7a" stroke-width="0.6" stroke-linejoin="round"/>
<polygon points="396.00,301.30 399.80,299.40 411.80,299.40 408.00,301.30" fill="#f8f8f8" stroke="#7a7a7a" stroke-width="0.6" stroke-linejoin="round"/>
<polygon points="396.00,301.30 408.00,301.30 408.00,351.50 396.00,351.50" fill="#fbfbfb" stroke="#7a7a7a" stroke-width="0.6" stroke-linejoin="round"/>
<line x1="442.30" y1="322.50" x2="442.30" y2="328.50" stroke="#999" stroke-width="1.0"/>
<line x1="441.00" y1="322.50" x2="443.60" y2="322.50" stroke="#999" stroke-width="0.8"/>
<polygon points="445.90,329.50 449.70,327.60 449.70,344.30 445.90,346.20" fill="#a4a4a4" stroke="#3a3a3a" stroke-width="0.6" stroke-linejoin="round"/>
<polygon points="434.50,329.50 438.30,327.60 449.70,327.60 445.90,329.50" fill="#a8a8a8" stroke="#3a3a3a" stroke-width="0.6" stroke-linejoin="round"/>
<polygon points="434.50,329.50 445.90,329.50 445.90,346.20 434.50,346.20" fill="#9a9a9a" stroke="#3a3a3a" stroke-width="0.6" stroke-linejoin="round"/>
<line x1="432.60" y1="336.20" x2="432.60" y2="339.50" stroke="#999" stroke-width="1.0"/>
<line x1="431.30" y1="336.20" x2="433.90" y2="336.20" stroke="#999" stroke-width="0.8"/>
<polygon points="436.80,340.50 440.60,338.60 440.60,349.60 436.80,351.50" fill="#f3f3f3" stroke="#7a7a7a" stroke-width="0.6" stroke-linejoin="round"/>
<polygon points="424.80,340.50 428.60,338.60 440.60,338.60 436.80,340.50" fill="#f8f8f8" stroke="#7a7a7a" stroke-width="0.6" stroke-linejoin="round"/>
<polygon points="424.80,340.50 436.80,340.50 436.80,351.50 424.80,351.50" fill="#fbfbfb" stroke="#7a7a7a" stroke-width="0.6" stroke-linejoin="round"/>
<line x1="471.10" y1="297.50" x2="471.10" y2="306.00" stroke="#999" stroke-width="1.0"/>
<line x1="469.80" y1="297.50" x2="472.40" y2="297.50" stroke="#999" stroke-width="0.8"/>
<polygon points="474.70,307.00 478.50,305.10 478.50,344.30 474.70,346.20" fill="#a4a4a4" stroke="#3a3a3a" stroke-width="0.6" stroke-linejoin="round"/>
<polygon points="463.30,307.00 467.10,305.10 478.50,305.10 474.70,307.00" fill="#a8a8a8" stroke="#3a3a3a" stroke-width="0.6" stroke-linejoin="round"/>
<polygon points="463.30,307.00 474.70,307.00 474.70,346.20 463.30,346.20" fill="#9a9a9a" stroke="#3a3a3a" stroke-width="0.6" stroke-linejoin="round"/>
<line x1="461.30" y1="333.00" x2="461.30" y2="337.00" stroke="#999" stroke-width="1.0"/>
<line x1="460.00" y1="333.00" x2="462.60" y2="333.00" stroke="#999" stroke-width="0.8"/>
<polygon points="465.50,338.00 469.30,336.10 469.30,349.60 465.50,351.50" fill="#f3f3f3" stroke="#7a7a7a" stroke-width="0.6" stroke-linejoin="round"/>
<polygon points="453.50,338.00 457.30,336.10 469.30,336.10 465.50,338.00" fill="#f8f8f8" stroke="#7a7a7a" stroke-width="0.6" stroke-linejoin="round"/>
<polygon points="453.50,338.00 465.50,338.00 465.50,351.50 453.50,351.50" fill="#fbfbfb" stroke="#7a7a7a" stroke-width="0.6" stroke-linejoin="round"/>
<polygon points="504.00,278.80 507.80,276.90 507.80,344.30 504.00,346.20" fill="#a4a4a4" stroke="#3a3a3a" stroke-width="0.6" stroke-linejoin="round"/>
<polygon points="492.60,278.80 496.40,276.90 507.80,276.90 504.00,278.80" fill="#a8a8a8" stroke="#3a3a3a" stroke-width="0.6" stroke-linejoin="round"/>
<polygon points="492.60,278.80 504.00,278.80 504.00,346.20 492.60,346.20" fill="#9a9a9a" stroke="#3a3a3a" stroke-width="0.6" stroke-linejoin="round"/>
<line x1="490.80" y1="332.00" x2="490.80" y2="336.30" stroke="#999" stroke-width="1.0"/>
<line x1="489.50" y1="332.00" x2="492.10" y2="332.00" stroke="#999" stroke-width="0.8"/>
<polygon points="495.00,337.30 498.80,335.40 498.80,349.60 495.00,351.50" fill="#f3f3f3" stroke="#7a7a7a" stroke-width="0.6" stroke-linejoin="round"/>
<polygon points="483.00,337.30 486.80,335.40 498.80,335.40 495.00,337.30" fill="#f8f8f8" stroke="#7a7a7a" stroke-width="0.6" stroke-linejoin="round"/>
<polygon points="483.00,337.30 495.00,337.30 495.00,351.50 483.00,351.50" fill="#fbfbfb" stroke="#7a7a7a" stroke-width="0.6" stroke-linejoin="round"/>
<circle cx="471.8" cy="293.0" r="1.3" fill="#111"/>
<circle cx="499.6" cy="273.8" r="1.3" fill="#111"/>
<circle cx="503.0" cy="273.8" r="1.3" fill="#111"/>
<text x="312.80" y="365.90" font-size="8.0" text-anchor="middle" fill="#000" >0</text>
<text x="341.30" y="365.90" font-size="8.0" text-anchor="middle" fill="#000" >1</text>
<text x="370.30" y="365.90" font-size="8.0" text-anchor="middle" fill="#000" >2</text>
<text x="399.50" y="365.90" font-size="8.0" text-anchor="middle" fill="#000" >4</text>
<text x="428.90" y="365.90" font-size="8.0" text-anchor="middle" fill="#000" >1</text>
<text x="457.70" y="365.90" font-size="8.0" text-anchor="middle" fill="#000" >2</text>
<text x="486.00" y="365.90" font-size="8.0" text-anchor="middle" fill="#000" >4</text>
<line x1="332.60" y1="368.20" x2="410.00" y2="368.20" stroke="#333" stroke-width="0.7"/>
<line x1="421.90" y1="368.20" x2="498.20" y2="368.20" stroke="#333" stroke-width="0.7"/>
<text x="369.20" y="379.90" font-size="8.0" text-anchor="middle" fill="#000" >IgG1 (mg/mL)</text>
<text x="456.60" y="379.90" font-size="8.0" text-anchor="middle" fill="#000" >IgG2 (mg/mL)</text>
<text x="2.30" y="398.20" font-size="12" font-weight="bold" text-anchor="start" fill="#000" class="pl">G</text>
<line x1="34.40" y1="407.80" x2="34.40" y2="493.30" stroke="#666" stroke-width="0.9"/>
<line x1="31.00" y1="489.30" x2="34.40" y2="489.30" stroke="#666" stroke-width="0.9"/>
<text x="29.70" y="492.20" font-size="8.3" text-anchor="end" fill="#000" >0</text>
<line x1="31.00" y1="473.00" x2="34.40" y2="473.00" stroke="#666" stroke-width="0.9"/>
<text x="29.70" y="475.90" font-size="8.3" text-anchor="end" fill="#000" >20</text>
<line x1="31.00" y1="456.70" x2="34.40" y2="456.70" stroke="#666" stroke-width="0.9"/>
<text x="29.70" y="459.60" font-size="8.3" text-anchor="end" fill="#000" >40</text>
<line x1="31.00" y1="440.40" x2="34.40" y2="440.40" stroke="#666" stroke-width="0.9"/>
<text x="29.70" y="443.30" font-size="8.3" text-anchor="end" fill="#000" >60</text>
<line x1="31.00" y1="424.10" x2="34.40" y2="424.10" stroke="#666" stroke-width="0.9"/>
<text x="29.70" y="427.00" font-size="8.3" text-anchor="end" fill="#000" >80</text>
<line x1="31.00" y1="407.80" x2="34.40" y2="407.80" stroke="#666" stroke-width="0.9"/>
<text x="29.70" y="410.70" font-size="8.3" text-anchor="end" fill="#000" >100</text>
<text font-size="8" font-weight="bold" fill="#111" text-anchor="middle" transform="translate(7.4,443.7) rotate(-90)">% inhibition of IV.3</text>
<text font-size="8" font-weight="bold" fill="#111" text-anchor="middle" transform="translate(14.6,443.0) rotate(-90)">binding</text>
<line x1="31.00" y1="489.30" x2="210.00" y2="489.30" stroke="#666" stroke-width="0.9"/>
<line x1="93.50" y1="489.30" x2="93.50" y2="492.80" stroke="#666" stroke-width="0.9"/>
<line x1="151.80" y1="489.30" x2="151.80" y2="492.80" stroke="#666" stroke-width="0.9"/>
<line x1="210.00" y1="489.30" x2="210.00" y2="492.80" stroke="#666" stroke-width="0.9"/>
<text x="34.50" y="504.60" font-size="8.2" text-anchor="middle" fill="#000" >0.01</text>
<text x="92.50" y="504.60" font-size="8.2" text-anchor="middle" fill="#000" >0.1</text>
<text x="152.30" y="504.60" font-size="8.2" text-anchor="middle" fill="#000" >1</text>
<text x="209.80" y="504.60" font-size="8.2" text-anchor="middle" fill="#000" >10</text>
<text x="122.00" y="513.80" font-size="7.8" text-anchor="middle" fill="#000" >IgG (mg/mL)</text>
<polyline points="68.75,486.20 86.25,481.20 104.50,471.75 139.50,441.00 157.00,425.75 175.00,414.25 192.50,411.75 210.00,410.00" fill="none" stroke="#111" stroke-width="1.1" stroke-linejoin="round" />
<polyline points="68.75,486.20 86.25,486.20 104.50,483.25 139.50,470.50 157.00,450.75 175.00,431.75 192.50,413.25 210.00,410.00" fill="none" stroke="#111" stroke-width="1.1" stroke-linejoin="round" />
<circle cx="68.75" cy="486.2" r="2.7" fill="#888" stroke="#111" stroke-width="0.9"/>
<circle cx="86.25" cy="481.2" r="2.7" fill="#888" stroke="#111" stroke-width="0.9"/>
<circle cx="104.5" cy="471.75" r="2.7" fill="#888" stroke="#111" stroke-width="0.9"/>
<circle cx="139.5" cy="441" r="2.7" fill="#888" stroke="#111" stroke-width="0.9"/>
<circle cx="157" cy="425.75" r="2.7" fill="#888" stroke="#111" stroke-width="0.9"/>
<circle cx="175" cy="414.25" r="2.7" fill="#888" stroke="#111" stroke-width="0.9"/>
<circle cx="192.5" cy="411.75" r="2.7" fill="#888" stroke="#111" stroke-width="0.9"/>
<circle cx="210" cy="410" r="2.7" fill="#888" stroke="#111" stroke-width="0.9"/>
<circle cx="68.75" cy="486.2" r="3.0" fill="#fff" stroke="#111" stroke-width="0.95"/>
<circle cx="86.25" cy="486.2" r="3.0" fill="#fff" stroke="#111" stroke-width="0.95"/>
<circle cx="104.5" cy="483.25" r="3.0" fill="#fff" stroke="#111" stroke-width="0.95"/>
<circle cx="139.5" cy="470.5" r="3.0" fill="#fff" stroke="#111" stroke-width="0.95"/>
<circle cx="157" cy="450.75" r="3.0" fill="#fff" stroke="#111" stroke-width="0.95"/>
<circle cx="175" cy="431.75" r="3.0" fill="#fff" stroke="#111" stroke-width="0.95"/>
<circle cx="192.5" cy="413.25" r="3.0" fill="#fff" stroke="#111" stroke-width="0.95"/>
<circle cx="210" cy="410" r="3.0" fill="#fff" stroke="#111" stroke-width="0.95"/>
<line x1="44.60" y1="418.00" x2="58.10" y2="418.00" stroke="#111" stroke-width="0.9"/>
<circle cx="51.6" cy="418" r="2.8" fill="#888" stroke="#111" stroke-width="0.9"/>
<text x="63.20" y="421.00" font-size="7.9" text-anchor="start" fill="#000" >HH</text>
<line x1="44.60" y1="430.20" x2="58.10" y2="430.20" stroke="#111" stroke-width="0.9"/>
<circle cx="51.4" cy="430.2" r="2.8" fill="#fff" stroke="#111" stroke-width="0.9"/>
<text x="63.20" y="433.20" font-size="7.9" text-anchor="start" fill="#000" >RR</text>
<text x="265.20" y="398.20" font-size="12" font-weight="bold" text-anchor="start" fill="#000" class="pl">H</text>
<line x1="300.50" y1="408.20" x2="300.50" y2="492.50" stroke="#666" stroke-width="0.9"/>
<line x1="296.80" y1="488.50" x2="300.50" y2="488.50" stroke="#666" stroke-width="0.9"/>
<text x="296.00" y="491.40" font-size="8.3" text-anchor="end" fill="#000" >0</text>
<line x1="296.80" y1="472.44" x2="300.50" y2="472.44" stroke="#666" stroke-width="0.9"/>
<text x="296.00" y="475.34" font-size="8.3" text-anchor="end" fill="#000" >20</text>
<line x1="296.80" y1="456.38" x2="300.50" y2="456.38" stroke="#666" stroke-width="0.9"/>
<text x="296.00" y="459.28" font-size="8.3" text-anchor="end" fill="#000" >40</text>
<line x1="296.80" y1="440.32" x2="300.50" y2="440.32" stroke="#666" stroke-width="0.9"/>
<text x="296.00" y="443.22" font-size="8.3" text-anchor="end" fill="#000" >60</text>
<line x1="296.80" y1="424.26" x2="300.50" y2="424.26" stroke="#666" stroke-width="0.9"/>
<text x="296.00" y="427.16" font-size="8.3" text-anchor="end" fill="#000" >80</text>
<line x1="296.80" y1="408.20" x2="300.50" y2="408.20" stroke="#666" stroke-width="0.9"/>
<text x="296.00" y="411.10" font-size="8.3" text-anchor="end" fill="#000" >100</text>
<text font-size="8" font-weight="bold" fill="#111" text-anchor="middle" transform="translate(274.3,445.5) rotate(-90)">% inhibition of IV.3</text>
<text font-size="8" font-weight="bold" fill="#111" text-anchor="middle" transform="translate(283.0,445.0) rotate(-90)">binding</text>
<line x1="296.80" y1="488.50" x2="502.30" y2="488.50" stroke="#666" stroke-width="0.9"/>
<line x1="368.30" y1="488.50" x2="368.30" y2="492.00" stroke="#666" stroke-width="0.9"/>
<line x1="435.50" y1="488.50" x2="435.50" y2="492.00" stroke="#666" stroke-width="0.9"/>
<line x1="502.30" y1="488.50" x2="502.30" y2="492.00" stroke="#666" stroke-width="0.9"/>
<text x="300.50" y="503.90" font-size="8.2" text-anchor="middle" fill="#000" >0.01</text>
<text x="368.90" y="503.90" font-size="8.2" text-anchor="middle" fill="#000" >0.1</text>
<text x="436.50" y="503.90" font-size="8.2" text-anchor="middle" fill="#000" >1</text>
<text x="504.00" y="503.90" font-size="8.2" text-anchor="middle" fill="#000" >10</text>
<text x="397.50" y="514.50" font-size="7.8" text-anchor="middle" fill="#000" textLength="74" lengthAdjust="spacingAndGlyphs">IgG1 or IgG2 (mg/mL)</text>
<polyline points="315.30,487.20 359.70,486.30 381.80,486.30 404.50,485.00 426.30,483.00 448.80,480.00 470.80,475.00 493.00,464.50" fill="none" stroke="#111" stroke-width="1.1" stroke-linejoin="round" />
<polyline points="315.30,487.20 359.70,486.30 381.80,486.30 404.50,482.50 426.30,472.50 448.80,453.30 470.80,438.00 493.00,422.00" fill="none" stroke="#111" stroke-width="1.1" stroke-linejoin="round" />
<polyline points="315.30,483.90 359.70,481.20 381.80,475.90 404.50,468.80 426.30,460.00 448.80,441.30 470.80,427.00" fill="none" stroke="#111" stroke-width="1.1" stroke-linejoin="round" />
<polyline points="315.30,483.60 359.70,479.50 381.80,472.80 404.50,460.50 426.30,442.50 448.80,427.50 470.80,412.00" fill="none" stroke="#111" stroke-width="1.1" stroke-linejoin="round" />
<polygon points="315.30,484.00 312.16,489.18 318.44,489.18" fill="#fff" stroke="#111" stroke-width="0.9"/>
<polygon points="359.70,483.10 356.56,488.28 362.84,488.28" fill="#fff" stroke="#111" stroke-width="0.9"/>
<polygon points="381.80,483.10 378.66,488.28 384.94,488.28" fill="#fff" stroke="#111" stroke-width="0.9"/>
<polygon points="404.50,481.80 401.36,486.98 407.64,486.98" fill="#fff" stroke="#111" stroke-width="0.9"/>
<polygon points="426.30,479.80 423.16,484.98 429.44,484.98" fill="#fff" stroke="#111" stroke-width="0.9"/>
<polygon points="448.80,476.80 445.66,481.98 451.94,481.98" fill="#fff" stroke="#111" stroke-width="0.9"/>
<polygon points="470.80,471.80 467.66,476.98 473.94,476.98" fill="#fff" stroke="#111" stroke-width="0.9"/>
<polygon points="493.00,461.30 489.86,466.48 496.14,466.48" fill="#fff" stroke="#111" stroke-width="0.9"/>
<polygon points="315.30,484.00 312.16,489.18 318.44,489.18" fill="#888" stroke="#111" stroke-width="0.9"/>
<polygon points="359.70,483.10 356.56,488.28 362.84,488.28" fill="#888" stroke="#111" stroke-width="0.9"/>
<polygon points="381.80,483.10 378.66,488.28 384.94,488.28" fill="#888" stroke="#111" stroke-width="0.9"/>
<polygon points="404.50,479.30 401.36,484.48 407.64,484.48" fill="#888" stroke="#111" stroke-width="0.9"/>
<polygon points="426.30,469.30 423.16,474.48 429.44,474.48" fill="#888" stroke="#111" stroke-width="0.9"/>
<polygon points="448.80,450.10 445.66,455.28 451.94,455.28" fill="#888" stroke="#111" stroke-width="0.9"/>
<polygon points="470.80,434.80 467.66,439.98 473.94,439.98" fill="#888" stroke="#111" stroke-width="0.9"/>
<polygon points="493.00,418.80 489.86,423.98 496.14,423.98" fill="#888" stroke="#111" stroke-width="0.9"/>
<circle cx="315.3" cy="483.9" r="3.1" fill="#fff" stroke="#111" stroke-width="0.95"/>
<circle cx="359.7" cy="481.2" r="3.1" fill="#fff" stroke="#111" stroke-width="0.95"/>
<circle cx="381.8" cy="475.9" r="3.1" fill="#fff" stroke="#111" stroke-width="0.95"/>
<circle cx="404.5" cy="468.8" r="3.1" fill="#fff" stroke="#111" stroke-width="0.95"/>
<circle cx="426.3" cy="460.0" r="3.1" fill="#fff" stroke="#111" stroke-width="0.95"/>
<circle cx="448.8" cy="441.3" r="3.1" fill="#fff" stroke="#111" stroke-width="0.95"/>
<circle cx="470.8" cy="427.0" r="3.1" fill="#fff" stroke="#111" stroke-width="0.95"/>
<circle cx="315.3" cy="483.6" r="2.5" fill="#888" stroke="#111" stroke-width="0.9"/>
<circle cx="359.7" cy="479.5" r="2.5" fill="#888" stroke="#111" stroke-width="0.9"/>
<circle cx="381.8" cy="472.8" r="2.5" fill="#888" stroke="#111" stroke-width="0.9"/>
<circle cx="404.5" cy="460.5" r="2.5" fill="#888" stroke="#111" stroke-width="0.9"/>
<circle cx="426.3" cy="442.5" r="2.5" fill="#888" stroke="#111" stroke-width="0.9"/>
<circle cx="448.8" cy="427.5" r="2.5" fill="#888" stroke="#111" stroke-width="0.9"/>
<circle cx="470.8" cy="412.0" r="2.5" fill="#888" stroke="#111" stroke-width="0.9"/>
<line x1="306.30" y1="410.50" x2="320.00" y2="410.50" stroke="#111" stroke-width="0.9"/>
<circle cx="312.8" cy="410.5" r="2.5" fill="#fff" stroke="#111" stroke-width="0.9"/>
<text x="325.40" y="413.60" font-size="8.5" text-anchor="start" fill="#000" >IgG1RR</text>
<line x1="306.30" y1="421.50" x2="320.00" y2="421.50" stroke="#111" stroke-width="0.9"/>
<polygon points="312.80,418.30 309.66,423.48 315.94,423.48" fill="#fff" stroke="#111" stroke-width="0.9"/>
<text x="325.40" y="424.60" font-size="8.5" text-anchor="start" fill="#000" >IgG2RR</text>
<line x1="306.30" y1="433.00" x2="320.00" y2="433.00" stroke="#111" stroke-width="0.9"/>
<circle cx="312.8" cy="433.0" r="2.5" fill="#888" stroke="#111" stroke-width="0.9"/>
<text x="325.40" y="436.10" font-size="8.5" text-anchor="start" fill="#000" >IgG1 HH</text>
<line x1="306.30" y1="445.10" x2="320.00" y2="445.10" stroke="#111" stroke-width="0.9"/>
<polygon points="312.80,441.90 309.66,447.08 315.94,447.08" fill="#888" stroke="#111" stroke-width="0.9"/>
<text x="325.40" y="448.20" font-size="8.5" text-anchor="start" fill="#000" >IgG2 HH</text>
</svg>
</body></html>
